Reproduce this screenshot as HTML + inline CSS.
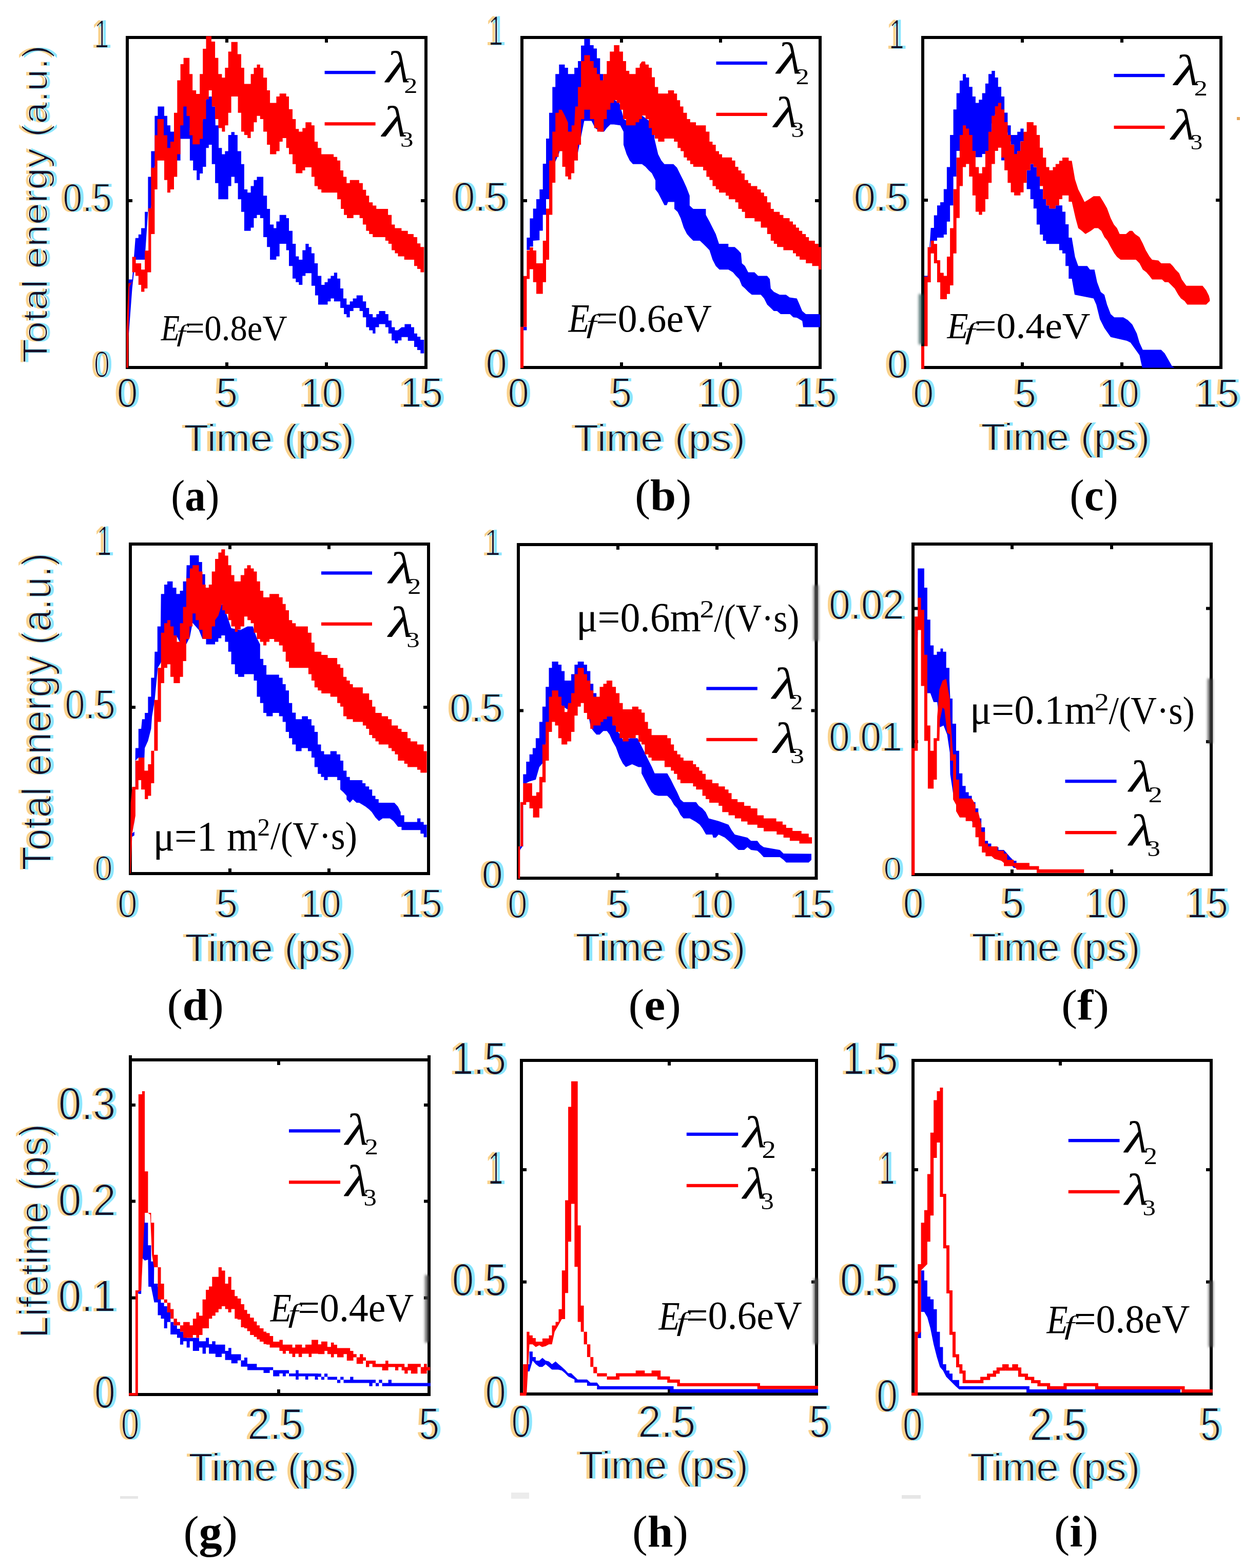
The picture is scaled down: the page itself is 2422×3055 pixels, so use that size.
<!DOCTYPE html>
<html><head><meta charset="utf-8"><title>Figure</title>
<style>html,body{margin:0;padding:0;background:#fff}svg{display:block}</style></head>
<body><svg width="2422" height="3055" viewBox="0 0 2422 3055">
<defs><filter id="bl" x="-50%" y="-10%" width="200%" height="120%"><feGaussianBlur stdDeviation="2.5"/></filter><filter id="er" x="-5%" y="-5%" width="110%" height="110%"><feMorphology operator="erode" radius="0.8"/></filter></defs>
<rect width="2422" height="3055" fill="#fff"/>
<g id="pa">
<rect x="248.0" y="73.0" width="582.0" height="643.0" fill="none" stroke="#000" stroke-width="6"/>
<rect x="439.0" y="76.0" width="6" height="7"/>
<rect x="439.0" y="706.0" width="6" height="7"/>
<rect x="633.0" y="76.0" width="6" height="7"/>
<rect x="633.0" y="706.0" width="6" height="7"/>
<rect x="251.0" y="388.0" width="7" height="6"/>
<rect x="820.0" y="388.0" width="7" height="6"/>
<polygon fill="#0000ff" points="250.5,649.8 250.5,544.5 257.6,544.5 263.9,463.7 269.8,463.7 269.8,456.7 275.1,456.7 275.1,444.4 282.1,444.4 282.1,412.8 288.4,412.8 288.4,344.4 294.4,344.4 294.4,294.5 301.4,294.5 301.4,225.7 307.4,225.7 307.4,207.5 320.0,207.5 320.0,225.7 326.0,225.7 326.0,244.3 332.0,244.3 332.0,256.6 339.0,256.6 345.3,244.3 351.6,244.3 357.6,207.5 363.6,207.5 363.6,226.8 369.9,256.6 394.5,256.6 395.2,232.0 401.5,193.4 407.8,188.1 412.7,188.1 413.8,207.5 419.1,207.5 419.8,244.3 426.1,244.3 426.1,288.2 432.4,288.2 432.4,300.5 438.4,300.5 438.4,294.5 444.7,294.5 444.7,262.9 450.6,262.9 450.6,257.3 457.0,257.3 457.0,262.9 462.9,262.9 462.9,294.5 470.0,294.5 470.0,319.8 475.9,319.8 475.9,369.0 482.2,369.0 482.2,375.3 488.6,375.3 488.6,362.6 494.5,362.6 494.5,350.7 500.5,350.7 500.5,344.4 513.1,344.4 513.1,381.2 520.2,381.2 520.2,406.9 526.1,406.9 526.1,437.4 533.2,437.4 533.2,444.4 538.4,444.4 538.4,431.4 544.7,431.4 544.7,418.8 557.7,418.8 557.7,425.1 563.0,425.1 563.0,449.7 570.0,449.7 570.0,475.0 576.3,475.0 576.3,499.6 582.3,499.6 582.3,505.9 589.3,505.9 589.3,487.6 595.3,487.6 595.3,475.0 601.6,475.0 601.6,481.3 606.9,481.3 606.9,493.6 612.8,493.6 612.8,512.9 619.2,512.9 619.2,537.5 626.2,537.5 626.2,555.0 632.5,555.0 632.5,549.8 638.5,549.8 638.5,542.7 644.4,542.7 644.4,537.5 650.8,537.5 650.8,531.2 657.1,531.2 657.1,542.7 663.1,542.7 663.1,562.0 669.0,562.0 669.0,581.4 675.3,581.4 675.3,593.6 681.7,593.6 681.7,587.3 687.6,587.3 687.6,581.4 694.7,581.4 694.7,575.4 706.9,575.4 706.9,587.3 713.3,587.3 713.3,600.0 719.2,600.0 719.2,611.9 726.2,611.9 726.2,618.2 733.3,618.2 733.3,611.9 738.5,611.9 738.5,605.9 750.8,605.9 750.8,611.9 756.8,611.9 756.8,624.5 763.1,624.5 763.1,637.5 769.4,637.5 769.4,643.5 775.4,643.5 782.4,637.5 788.4,637.5 788.4,631.6 801.0,631.6 801.0,637.5 807.0,637.5 807.0,649.8 813.0,649.8 813.0,656.1 819.3,656.1 819.3,662.1 826.3,662.1 826.3,688.4 819.3,688.4 819.3,682.1 813.0,682.1 813.0,676.1 807.0,676.1 807.0,663.9 794.7,663.9 794.7,656.8 782.4,656.8 782.4,663.2 775.4,663.2 775.4,669.1 769.4,669.1 769.4,663.2 763.1,663.2 763.1,649.8 756.8,649.8 756.8,637.5 750.8,637.5 750.8,631.6 738.5,631.6 738.5,637.5 731.5,637.5 731.5,649.8 726.2,649.8 726.2,643.5 719.2,643.5 719.2,637.5 713.3,637.5 713.3,618.2 706.9,618.2 706.9,605.9 700.6,605.9 700.6,600.0 688.7,600.0 688.7,605.9 681.7,605.9 681.7,618.2 675.3,618.2 675.3,611.9 670.1,611.9 670.1,600.0 663.1,600.0 663.1,587.3 650.8,587.3 650.8,581.4 644.4,581.4 644.4,587.3 638.5,587.3 638.5,593.6 619.9,593.6 619.9,575.4 613.9,575.4 613.9,556.8 606.9,556.8 606.9,532.2 595.3,532.2 595.3,537.5 589.3,537.5 589.3,555.0 582.3,555.0 582.3,549.8 576.3,549.8 576.3,542.7 570.0,542.7 570.0,518.2 563.0,518.2 563.0,487.6 557.7,487.6 557.7,475.0 544.7,475.0 544.7,499.6 538.4,499.6 538.4,505.9 526.1,505.9 526.1,481.3 520.2,481.3 520.2,462.0 513.1,462.0 513.1,425.1 506.8,425.1 506.8,418.8 500.5,418.8 500.5,425.1 494.5,425.1 494.5,443.4 488.6,443.4 488.6,449.7 475.9,449.7 475.9,412.8 470.0,412.8 470.0,388.3 463.6,388.3 463.6,356.7 457.0,356.7 457.0,344.4 450.6,344.4 450.6,362.6 444.7,362.6 444.7,388.3 425.4,388.3 425.4,356.7 419.1,356.7 419.1,319.8 412.7,319.8 412.7,281.9 406.8,281.9 406.8,288.2 401.5,288.2 401.5,325.1 395.2,325.1 395.2,338.1 389.2,338.1 389.2,350.7 383.2,350.7 383.2,332.1 376.2,332.1 376.2,312.8 369.9,312.8 369.9,270.6 363.6,270.6 351.6,270.6 351.6,312.8 345.3,312.8 339.0,305.8 326.0,305.8 320.0,270.6 306.7,305.8 301.4,325.1 294.4,405.8 288.4,412.8 282.1,505.9 263.9,505.9 257.6,562.0 250.5,656.8"/>
<polygon fill="#ff0000" points="246.3,716.5 246.3,642.8 250.5,551.5 257.6,551.5 257.6,500.6 264.6,500.6 264.6,512.9 275.1,512.9 275.1,525.2 282.1,525.2 282.1,488.3 289.2,488.3 289.2,405.8 294.4,405.8 294.4,326.8 301.4,326.8 301.4,263.6 306.7,263.6 306.7,232.0 319.0,232.0 319.0,263.6 326.0,263.6 326.0,288.2 332.0,288.2 332.0,275.9 339.0,275.9 339.0,219.7 345.3,219.7 345.3,156.5 351.6,156.5 351.6,125.0 357.6,125.0 357.6,112.7 369.2,112.7 369.2,144.3 375.2,144.3 375.2,175.9 382.2,175.9 382.2,182.9 389.2,182.9 389.2,144.3 395.2,144.3 395.2,95.1 401.5,95.1 401.5,70.5 412.0,70.5 412.0,81.1 419.1,81.1 419.1,112.7 425.4,112.7 425.4,144.3 432.4,144.3 432.4,151.3 438.4,151.3 438.4,132.0 444.7,132.0 444.7,100.4 450.6,100.4 450.6,81.8 462.9,81.8 462.9,105.6 470.0,105.6 470.0,132.0 475.9,132.0 475.9,163.6 488.6,163.6 488.6,144.3 494.5,144.3 494.5,132.0 500.5,132.0 500.5,125.7 506.8,125.7 506.8,132.0 513.1,132.0 513.1,151.3 520.2,151.3 520.2,175.9 526.1,175.9 526.1,200.4 538.4,200.4 538.4,188.1 544.7,188.1 544.7,182.2 557.7,182.2 557.7,188.1 563.0,188.1 563.0,212.7 570.0,212.7 570.0,232.0 576.3,232.0 576.3,251.3 582.3,251.3 582.3,256.6 589.3,256.6 589.3,249.6 595.3,249.6 595.3,238.3 606.9,238.3 606.9,244.3 612.8,244.3 612.8,275.9 619.2,275.9 619.2,288.2 626.2,288.2 626.2,300.5 650.1,300.5 650.1,305.8 657.1,305.8 657.1,312.8 663.1,312.8 663.1,332.1 669.0,332.1 669.0,344.4 675.3,344.4 675.3,356.7 681.7,356.7 681.7,350.7 699.9,350.7 699.9,356.7 706.9,356.7 706.9,369.7 713.3,369.7 713.3,381.2 719.2,381.2 719.2,394.2 726.2,394.2 726.2,400.6 733.3,400.6 733.3,406.9 756.1,406.9 756.1,418.8 763.1,418.8 763.1,437.4 769.4,437.4 769.4,444.4 782.4,444.4 782.4,449.7 794.7,449.7 794.7,456.0 805.9,456.0 805.9,462.0 813.0,462.0 813.0,474.3 819.3,474.3 819.3,481.3 826.3,481.3 826.3,488.3 826.3,530.5 819.3,530.5 819.3,524.1 813.0,524.1 813.0,518.2 807.0,518.2 807.0,505.9 787.7,505.9 787.7,499.6 775.4,499.6 775.4,493.6 769.4,493.6 769.4,487.6 763.1,487.6 763.1,475.0 756.8,475.0 756.8,469.0 750.8,469.0 750.8,462.0 726.2,462.0 726.2,456.0 719.2,456.0 719.2,449.7 713.3,449.7 713.3,437.4 706.9,437.4 706.9,425.1 700.6,425.1 700.6,418.8 688.7,418.8 688.7,425.1 676.0,425.1 676.0,418.8 670.1,418.8 670.1,406.9 664.1,406.9 664.1,388.3 657.1,388.3 657.1,375.3 626.2,375.3 626.2,369.0 619.2,369.0 619.2,362.6 612.8,362.6 612.8,344.4 606.9,344.4 606.9,326.1 594.6,326.1 594.6,332.1 589.3,332.1 589.3,337.4 576.3,337.4 576.3,319.8 570.0,319.8 570.0,300.5 563.0,300.5 563.0,288.2 557.7,288.2 557.7,268.9 550.7,268.9 550.7,275.9 544.7,275.9 544.7,294.5 538.4,294.5 538.4,300.5 526.1,300.5 526.1,281.9 520.2,281.9 520.2,256.6 513.1,256.6 513.1,232.0 506.8,232.0 506.8,225.7 500.5,225.7 500.5,238.3 494.5,238.3 494.5,256.6 488.6,256.6 488.6,268.9 482.2,268.9 482.2,262.9 475.9,262.9 475.9,256.6 470.0,256.6 470.0,219.7 463.6,219.7 463.6,188.1 450.6,188.1 450.6,219.7 444.7,219.7 444.7,244.3 438.4,244.3 438.4,256.6 432.4,256.6 432.4,249.6 425.4,249.6 425.4,232.0 419.1,232.0 419.1,207.5 412.7,207.5 412.7,175.9 406.8,175.9 406.8,193.4 401.5,193.4 401.5,232.0 395.2,232.0 395.2,270.6 389.2,270.6 389.2,281.2 375.2,281.2 375.2,263.6 369.2,263.6 369.2,249.6 357.6,249.6 357.6,268.9 351.6,268.9 351.6,300.5 345.3,300.5 345.3,344.4 339.0,344.4 339.0,369.0 332.0,369.0 332.0,375.3 326.0,375.3 326.0,350.7 320.0,350.7 320.0,312.8 306.7,312.8 306.7,369.0 301.4,369.0 301.4,456.0 294.4,456.0 294.4,530.5 287.4,530.5 287.4,562.0 281.4,562.0 281.4,568.4 275.1,568.4 275.1,555.0 269.8,555.0 269.8,537.5 263.9,537.5 263.9,530.5 257.6,530.5 257.6,548.0 252.3,558.5 250.5,642.8 249.8,716.5"/>
<g style="mix-blend-mode:multiply"><g fill="#fad28c" transform="translate(-5,0)"><text x="182.9" y="93.0" style='font-family:"Liberation Sans",sans-serif;font-size:78.49px' textLength="29.7" lengthAdjust="spacingAndGlyphs">1</text></g><g fill="#8ce6ff" transform="translate(5,0)"><text x="182.9" y="93.0" style='font-family:"Liberation Sans",sans-serif;font-size:78.49px' textLength="29.7" lengthAdjust="spacingAndGlyphs">1</text></g></g><g fill="#180c28" filter="url(#er)"><text x="182.9" y="93.0" style='font-family:"Liberation Sans",sans-serif;font-size:78.49px' textLength="29.7" lengthAdjust="spacingAndGlyphs">1</text></g>
<g style="mix-blend-mode:multiply"><g fill="#fad28c" transform="translate(-5,0)"><text x="122.3" y="411.7" style='font-family:"Liberation Sans",sans-serif;font-size:78.39px' textLength="95.6" lengthAdjust="spacingAndGlyphs">0.5</text></g><g fill="#8ce6ff" transform="translate(5,0)"><text x="122.3" y="411.7" style='font-family:"Liberation Sans",sans-serif;font-size:78.39px' textLength="95.6" lengthAdjust="spacingAndGlyphs">0.5</text></g></g><g fill="#180c28" filter="url(#er)"><text x="122.3" y="411.7" style='font-family:"Liberation Sans",sans-serif;font-size:78.39px' textLength="95.6" lengthAdjust="spacingAndGlyphs">0.5</text></g>
<g style="mix-blend-mode:multiply"><g fill="#fad28c" transform="translate(-5,0)"><text x="182.8" y="735.3" style='font-family:"Liberation Sans",sans-serif;font-size:72.03px' textLength="31.4" lengthAdjust="spacingAndGlyphs">0</text></g><g fill="#8ce6ff" transform="translate(5,0)"><text x="182.8" y="735.3" style='font-family:"Liberation Sans",sans-serif;font-size:72.03px' textLength="31.4" lengthAdjust="spacingAndGlyphs">0</text></g></g><g fill="#180c28" filter="url(#er)"><text x="182.8" y="735.3" style='font-family:"Liberation Sans",sans-serif;font-size:72.03px' textLength="31.4" lengthAdjust="spacingAndGlyphs">0</text></g>
<g style="mix-blend-mode:multiply"><g fill="#fad28c" transform="translate(-5,0)"><text x="227.7" y="792.9" style='font-family:"Liberation Sans",sans-serif;font-size:80.08px' textLength="40.7" lengthAdjust="spacingAndGlyphs">0</text></g><g fill="#8ce6ff" transform="translate(5,0)"><text x="227.7" y="792.9" style='font-family:"Liberation Sans",sans-serif;font-size:80.08px' textLength="40.7" lengthAdjust="spacingAndGlyphs">0</text></g></g><g fill="#180c28" filter="url(#er)"><text x="227.7" y="792.9" style='font-family:"Liberation Sans",sans-serif;font-size:80.08px' textLength="40.7" lengthAdjust="spacingAndGlyphs">0</text></g>
<g style="mix-blend-mode:multiply"><g fill="#fad28c" transform="translate(-5,0)"><text x="421.0" y="792.9" style='font-family:"Liberation Sans",sans-serif;font-size:81.26px' textLength="42.2" lengthAdjust="spacingAndGlyphs">5</text></g><g fill="#8ce6ff" transform="translate(5,0)"><text x="421.0" y="792.9" style='font-family:"Liberation Sans",sans-serif;font-size:81.26px' textLength="42.2" lengthAdjust="spacingAndGlyphs">5</text></g></g><g fill="#180c28" filter="url(#er)"><text x="421.0" y="792.9" style='font-family:"Liberation Sans",sans-serif;font-size:81.26px' textLength="42.2" lengthAdjust="spacingAndGlyphs">5</text></g>
<g style="mix-blend-mode:multiply"><g fill="#fad28c" transform="translate(-5,0)"><text x="586.3" y="792.9" style='font-family:"Liberation Sans",sans-serif;font-size:80.08px' textLength="82.6" lengthAdjust="spacingAndGlyphs">10</text></g><g fill="#8ce6ff" transform="translate(5,0)"><text x="586.3" y="792.9" style='font-family:"Liberation Sans",sans-serif;font-size:80.08px' textLength="82.6" lengthAdjust="spacingAndGlyphs">10</text></g></g><g fill="#180c28" filter="url(#er)"><text x="586.3" y="792.9" style='font-family:"Liberation Sans",sans-serif;font-size:80.08px' textLength="82.6" lengthAdjust="spacingAndGlyphs">10</text></g>
<g style="mix-blend-mode:multiply"><g fill="#fad28c" transform="translate(-5,0)"><text x="780.3" y="792.9" style='font-family:"Liberation Sans",sans-serif;font-size:81.26px' textLength="82.8" lengthAdjust="spacingAndGlyphs">15</text></g><g fill="#8ce6ff" transform="translate(5,0)"><text x="780.3" y="792.9" style='font-family:"Liberation Sans",sans-serif;font-size:81.26px' textLength="82.8" lengthAdjust="spacingAndGlyphs">15</text></g></g><g fill="#180c28" filter="url(#er)"><text x="780.3" y="792.9" style='font-family:"Liberation Sans",sans-serif;font-size:81.26px' textLength="82.8" lengthAdjust="spacingAndGlyphs">15</text></g>
<g style="mix-blend-mode:multiply"><g fill="#fad28c" transform="translate(-5,0)"><text x="357.9" y="878.5" style='font-family:"Liberation Sans",sans-serif;font-size:74.56px' textLength="332.5" lengthAdjust="spacingAndGlyphs">Time (ps)</text></g><g fill="#8ce6ff" transform="translate(5,0)"><text x="357.9" y="878.5" style='font-family:"Liberation Sans",sans-serif;font-size:74.56px' textLength="332.5" lengthAdjust="spacingAndGlyphs">Time (ps)</text></g></g><g fill="#180c28" filter="url(#er)"><text x="357.9" y="878.5" style='font-family:"Liberation Sans",sans-serif;font-size:74.56px' textLength="332.5" lengthAdjust="spacingAndGlyphs">Time (ps)</text></g>
<g style="mix-blend-mode:multiply"><g fill="#fad28c" transform="translate(-5,0)"><g transform="rotate(-90)"><text x="-707.2" y="92.4" style='font-family:"Liberation Sans",sans-serif;font-size:68.77px' textLength="619.2" lengthAdjust="spacingAndGlyphs">Total energy (a.u.)</text></g></g><g fill="#8ce6ff" transform="translate(5,0)"><g transform="rotate(-90)"><text x="-707.2" y="92.4" style='font-family:"Liberation Sans",sans-serif;font-size:68.77px' textLength="619.2" lengthAdjust="spacingAndGlyphs">Total energy (a.u.)</text></g></g></g><g fill="#180c28" filter="url(#er)"><g transform="rotate(-90)"><text x="-707.2" y="92.4" style='font-family:"Liberation Sans",sans-serif;font-size:68.77px' textLength="619.2" lengthAdjust="spacingAndGlyphs">Total energy (a.u.)</text></g></g>
<rect x="632.6" y="138.0" width="99.0" height="6.3" fill="#0000ff"/>
<rect x="632.6" y="238.2" width="99.0" height="6.3" fill="#ff0000"/>
<text x="751.7" y="160.0" style='font-family:"Liberation Serif",serif;font-style:italic;font-size:87.20px' textLength="47.6" lengthAdjust="spacingAndGlyphs" fill="#000">λ</text>
<text x="787.2" y="181.0" style='font-family:"Liberation Serif",serif;font-size:42.29px' textLength="26.3" lengthAdjust="spacingAndGlyphs" fill="#000">2</text>
<text x="744.8" y="265.4" style='font-family:"Liberation Serif",serif;font-style:italic;font-size:84.79px' textLength="49.1" lengthAdjust="spacingAndGlyphs" fill="#000">λ</text>
<text x="780.1" y="286.1" style='font-family:"Liberation Serif",serif;font-size:42.42px' textLength="25.5" lengthAdjust="spacingAndGlyphs" fill="#000">3</text>
<text x="313.7" y="663.0" style='font-family:"Liberation Serif",serif;font-style:italic;font-size:71.17px' textLength="36.3" lengthAdjust="spacingAndGlyphs" fill="#000">E</text>
<text x="344.3" y="664.8" style='font-family:"Liberation Serif",serif;font-style:italic;font-size:45.47px' textLength="17.3" lengthAdjust="spacingAndGlyphs" fill="#000">f</text>
<text x="360.7" y="662.9" style='font-family:"Liberation Serif",serif;font-size:69.98px' textLength="198.9" lengthAdjust="spacingAndGlyphs" fill="#000">=0.8eV</text>
<text x="333.3" y="994.6" style='font-family:"Liberation Serif",serif;font-size:86.35px' textLength="94.2" lengthAdjust="spacingAndGlyphs" fill="#000">(<tspan style='font-family:"Liberation Serif",serif;font-weight:bold'>a</tspan>)</text>
</g>
<g id="pb">
<rect x="1017.0" y="73.0" width="581.0" height="643.0" fill="none" stroke="#000" stroke-width="6"/>
<rect x="1208.0" y="76.0" width="6" height="7"/>
<rect x="1208.0" y="706.0" width="6" height="7"/>
<rect x="1401.0" y="76.0" width="6" height="7"/>
<rect x="1401.0" y="706.0" width="6" height="7"/>
<rect x="1020.0" y="388.0" width="7" height="6"/>
<rect x="1588.0" y="388.0" width="7" height="6"/>
<polygon fill="#0000ff" points="1020.1,636.8 1026.4,636.8 1026.4,463.0 1032.4,463.0 1032.4,425.5 1038.7,425.5 1038.7,406.5 1045.0,406.5 1045.0,387.9 1051.3,387.9 1051.3,369.0 1057.7,369.0 1057.7,319.1 1064.0,319.1 1064.0,269.9 1070.0,269.9 1070.0,219.7 1076.3,219.7 1076.3,169.5 1082.2,169.5 1082.2,144.3 1089.3,144.3 1089.3,125.7 1100.5,125.7 1100.5,132.0 1106.8,132.0 1106.8,144.3 1119.1,144.3 1119.1,132.0 1126.1,132.0 1126.1,119.0 1132.1,119.0 1132.1,88.8 1138.4,88.8 1138.4,75.8 1149.6,75.8 1149.6,88.1 1156.7,88.1 1156.7,94.4 1163.0,94.4 1163.0,113.4 1169.3,113.4 1169.3,144.3 1175.3,144.3 1175.3,156.5 1180.5,165.3 1198.1,195.2 1206.9,200.4 1215.6,232.0 1233.2,242.6 1250.8,225.0 1264.8,235.5 1275.3,256.6 1275.3,270.6 1282.4,300.5 1288.7,312.8 1294.6,319.8 1312.2,319.8 1319.2,326.8 1325.2,339.1 1331.5,351.4 1337.8,365.4 1343.8,381.2 1343.8,400.6 1350.8,406.9 1375.4,406.9 1375.4,418.8 1382.4,431.4 1388.4,443.4 1394.7,456.0 1401.0,475.0 1419.3,475.0 1419.3,481.3 1431.6,481.3 1438.6,487.6 1443.9,493.6 1445.6,512.9 1451.6,518.2 1457.9,530.5 1470.2,530.5 1477.2,537.5 1494.8,537.5 1500.0,543.8 1501.8,562.0 1507.8,568.4 1519.3,574.3 1531.6,574.3 1538.6,579.6 1552.7,581.4 1558.0,593.6 1563.2,605.9 1570.2,611.9 1594.8,611.9 1598.3,613.0 1598.3,637.5 1565.0,637.5 1563.2,625.2 1552.7,618.9 1545.7,618.2 1539.3,611.9 1521.1,611.9 1514.1,605.9 1507.8,605.9 1501.8,600.0 1494.8,593.6 1488.8,581.4 1482.5,574.3 1464.9,574.3 1457.9,568.4 1451.6,562.0 1445.6,556.8 1440.3,543.8 1434.0,537.5 1428.1,530.5 1419.3,525.2 1401.7,525.2 1394.7,518.2 1388.4,505.9 1382.4,487.6 1376.4,481.3 1370.1,475.0 1363.8,469.0 1350.8,469.0 1343.8,462.0 1338.5,456.0 1332.2,443.4 1326.2,425.1 1320.3,412.8 1314.0,406.9 1314.0,393.5 1301.7,393.5 1299.2,399.8 1294.6,399.8 1288.7,388.3 1282.4,376.0 1277.1,369.0 1277.1,351.4 1270.1,337.4 1264.1,332.1 1257.8,325.1 1250.8,319.8 1233.2,319.8 1226.9,312.8 1220.9,300.5 1214.9,281.9 1214.9,256.6 1208.6,244.3 1196.3,242.6 1189.3,242.6 1182.3,249.6 1177.0,256.6 1170.0,256.6 1159.5,249.6 1152.5,235.5 1138.4,235.5 1131.4,270.6 1124.4,305.8 1113.8,277.7 1106.8,256.6 1096.3,270.6 1089.3,298.7 1077.0,326.8 1070.0,387.9 1064.0,387.9 1064.0,418.5 1057.7,418.5 1057.7,449.4 1051.3,449.4 1051.3,468.0 1038.7,469.0 1038.7,480.6 1032.4,480.6 1032.4,486.9 1026.4,486.9 1026.4,643.5 1020.1,643.5"/>
<polygon fill="#ff0000" points="1014.1,716.9 1014.1,636.8 1020.1,636.8 1020.1,537.8 1026.4,537.8 1026.4,488.0 1032.0,488.0 1032.0,482.0 1038.7,482.0 1038.7,488.0 1045.0,488.0 1045.0,512.9 1057.7,512.9 1057.7,469.0 1064.0,469.0 1064.0,406.5 1070.0,406.5 1070.0,312.8 1076.3,312.8 1076.3,256.6 1082.2,256.6 1082.2,219.7 1088.6,219.7 1088.6,213.8 1094.5,213.8 1100.5,225.0 1106.8,239.1 1106.8,256.6 1113.8,256.6 1113.8,244.3 1119.1,244.3 1120.9,207.5 1126.1,207.5 1126.1,169.5 1132.1,169.5 1132.1,119.0 1138.4,119.0 1138.4,107.4 1149.6,107.4 1149.6,119.0 1156.7,119.0 1156.7,132.0 1163.0,132.0 1163.0,144.3 1168.3,144.3 1169.3,156.5 1175.3,156.5 1175.3,144.3 1182.3,144.3 1182.3,119.0 1188.3,119.0 1188.3,100.4 1196.3,100.4 1196.3,88.1 1206.9,88.1 1206.9,100.4 1213.9,100.4 1213.9,119.0 1219.9,119.0 1219.9,137.9 1226.2,137.9 1226.2,144.3 1238.5,144.3 1238.5,132.0 1246.5,132.0 1246.5,125.7 1250.8,119.7 1257.1,119.7 1257.8,125.7 1264.1,125.7 1264.1,132.0 1270.1,132.0 1270.1,150.6 1276.0,150.6 1276.0,169.5 1282.4,169.5 1282.4,182.2 1301.7,182.2 1301.7,175.9 1313.3,175.9 1313.3,182.2 1319.2,182.2 1319.2,195.2 1325.2,195.2 1325.2,207.5 1331.5,207.5 1331.5,219.7 1338.5,219.7 1338.5,232.0 1344.8,232.0 1344.8,238.3 1356.1,238.3 1356.1,244.3 1375.4,244.3 1375.4,256.6 1382.4,256.6 1382.4,275.9 1388.4,275.9 1388.4,281.9 1394.7,281.9 1394.7,294.5 1401.0,294.5 1401.0,300.5 1407.0,300.5 1407.0,306.8 1426.3,306.8 1426.3,312.8 1432.6,312.8 1432.6,325.1 1438.6,325.1 1438.6,332.1 1444.6,332.1 1444.6,338.1 1450.9,338.1 1450.9,350.7 1457.9,350.7 1457.9,356.7 1463.2,356.7 1463.2,362.6 1475.5,362.6 1475.5,369.0 1482.5,369.0 1482.5,375.3 1488.8,375.3 1488.8,382.3 1494.8,382.3 1494.8,394.2 1501.8,394.2 1501.8,406.9 1507.8,406.9 1507.8,412.8 1519.3,412.8 1519.3,418.8 1526.4,418.8 1526.4,425.1 1538.6,425.1 1538.6,431.4 1545.0,431.4 1545.0,437.4 1550.9,437.4 1550.9,443.4 1556.9,443.4 1556.9,449.7 1563.2,449.7 1563.2,456.0 1570.2,456.0 1570.2,462.0 1576.2,462.0 1576.2,469.0 1587.8,469.0 1587.8,475.0 1594.8,475.0 1594.8,481.3 1600.1,481.3 1600.1,525.2 1594.8,525.2 1594.8,518.2 1582.5,518.2 1582.5,512.9 1570.2,512.9 1570.2,505.9 1558.0,505.9 1558.0,499.6 1550.9,499.6 1550.9,493.6 1545.0,493.6 1545.0,487.6 1526.4,487.6 1526.4,481.3 1514.1,481.3 1514.1,475.0 1507.8,475.0 1507.8,469.0 1501.8,469.0 1501.8,456.0 1494.8,456.0 1494.8,443.4 1482.5,443.4 1482.5,431.4 1470.2,431.4 1470.2,425.1 1451.6,425.1 1451.6,412.8 1445.6,412.8 1445.6,406.9 1438.6,406.9 1438.6,394.2 1432.6,394.2 1432.6,388.3 1420.0,388.3 1420.0,381.2 1414.0,381.2 1414.0,375.3 1401.0,375.3 1401.0,369.0 1394.7,369.0 1394.7,362.6 1388.4,362.6 1388.4,350.7 1382.4,350.7 1382.4,344.4 1376.4,344.4 1376.4,332.1 1370.1,332.1 1370.1,325.1 1350.8,325.1 1350.8,319.8 1344.8,319.8 1344.8,312.8 1338.5,312.8 1338.5,306.8 1332.2,306.8 1332.2,294.5 1326.2,294.5 1326.2,288.2 1320.3,288.2 1320.3,275.9 1313.3,275.9 1313.3,269.9 1294.6,269.9 1294.6,275.9 1282.4,275.9 1282.4,269.9 1276.0,269.9 1276.0,262.9 1270.1,262.9 1270.1,249.6 1264.1,249.6 1264.1,232.0 1257.8,232.0 1257.8,225.0 1250.8,225.0 1250.8,232.0 1245.5,232.0 1245.5,238.3 1238.5,238.3 1238.5,244.3 1219.9,244.3 1219.9,232.0 1213.9,232.0 1213.9,213.8 1207.9,213.8 1207.9,200.4 1201.6,200.4 1201.6,195.2 1196.3,195.2 1196.3,200.4 1189.3,200.4 1189.3,213.8 1182.3,213.8 1182.3,232.0 1176.3,232.0 1176.3,256.6 1163.7,256.6 1163.7,249.6 1157.7,249.6 1157.7,232.0 1149.6,232.0 1149.6,213.8 1138.4,213.8 1138.4,232.0 1132.1,232.0 1132.1,281.9 1126.1,281.9 1126.1,312.8 1119.1,312.8 1119.1,337.4 1113.1,337.4 1113.1,349.6 1106.8,349.6 1106.8,343.7 1101.5,343.7 1101.5,325.1 1095.6,325.1 1095.6,294.5 1088.6,294.5 1088.6,305.8 1082.2,305.8 1082.2,356.0 1076.3,356.0 1076.3,418.5 1070.0,418.5 1070.0,505.9 1064.0,505.9 1064.0,549.8 1057.7,549.8 1057.7,572.6 1045.0,572.6 1045.0,549.8 1038.7,549.8 1038.7,524.5 1032.0,524.5 1032.0,543.4 1026.4,543.4 1026.4,636.8 1020.1,636.8 1020.1,716.9"/>
<g style="mix-blend-mode:multiply"><g fill="#fad28c" transform="translate(-5,0)"><text x="950.9" y="88.0" style='font-family:"Liberation Sans",sans-serif;font-size:81.40px' textLength="29.7" lengthAdjust="spacingAndGlyphs">1</text></g><g fill="#8ce6ff" transform="translate(5,0)"><text x="950.9" y="88.0" style='font-family:"Liberation Sans",sans-serif;font-size:81.40px' textLength="29.7" lengthAdjust="spacingAndGlyphs">1</text></g></g><g fill="#180c28" filter="url(#er)"><text x="950.9" y="88.0" style='font-family:"Liberation Sans",sans-serif;font-size:81.40px' textLength="29.7" lengthAdjust="spacingAndGlyphs">1</text></g>
<g style="mix-blend-mode:multiply"><g fill="#fad28c" transform="translate(-5,0)"><text x="883.7" y="411.2" style='font-family:"Liberation Sans",sans-serif;font-size:79.10px' textLength="104.5" lengthAdjust="spacingAndGlyphs">0.5</text></g><g fill="#8ce6ff" transform="translate(5,0)"><text x="883.7" y="411.2" style='font-family:"Liberation Sans",sans-serif;font-size:79.10px' textLength="104.5" lengthAdjust="spacingAndGlyphs">0.5</text></g></g><g fill="#180c28" filter="url(#er)"><text x="883.7" y="411.2" style='font-family:"Liberation Sans",sans-serif;font-size:79.10px' textLength="104.5" lengthAdjust="spacingAndGlyphs">0.5</text></g>
<g style="mix-blend-mode:multiply"><g fill="#fad28c" transform="translate(-5,0)"><text x="946.5" y="736.2" style='font-family:"Liberation Sans",sans-serif;font-size:79.52px' textLength="41.4" lengthAdjust="spacingAndGlyphs">0</text></g><g fill="#8ce6ff" transform="translate(5,0)"><text x="946.5" y="736.2" style='font-family:"Liberation Sans",sans-serif;font-size:79.52px' textLength="41.4" lengthAdjust="spacingAndGlyphs">0</text></g></g><g fill="#180c28" filter="url(#er)"><text x="946.5" y="736.2" style='font-family:"Liberation Sans",sans-serif;font-size:79.52px' textLength="41.4" lengthAdjust="spacingAndGlyphs">0</text></g>
<g style="mix-blend-mode:multiply"><g fill="#fad28c" transform="translate(-5,0)"><text x="989.5" y="793.2" style='font-family:"Liberation Sans",sans-serif;font-size:80.51px' textLength="41.4" lengthAdjust="spacingAndGlyphs">0</text></g><g fill="#8ce6ff" transform="translate(5,0)"><text x="989.5" y="793.2" style='font-family:"Liberation Sans",sans-serif;font-size:80.51px' textLength="41.4" lengthAdjust="spacingAndGlyphs">0</text></g></g><g fill="#180c28" filter="url(#er)"><text x="989.5" y="793.2" style='font-family:"Liberation Sans",sans-serif;font-size:80.51px' textLength="41.4" lengthAdjust="spacingAndGlyphs">0</text></g>
<g style="mix-blend-mode:multiply"><g fill="#fad28c" transform="translate(-5,0)"><text x="1190.0" y="793.2" style='font-family:"Liberation Sans",sans-serif;font-size:81.69px' textLength="41.1" lengthAdjust="spacingAndGlyphs">5</text></g><g fill="#8ce6ff" transform="translate(5,0)"><text x="1190.0" y="793.2" style='font-family:"Liberation Sans",sans-serif;font-size:81.69px' textLength="41.1" lengthAdjust="spacingAndGlyphs">5</text></g></g><g fill="#180c28" filter="url(#er)"><text x="1190.0" y="793.2" style='font-family:"Liberation Sans",sans-serif;font-size:81.69px' textLength="41.1" lengthAdjust="spacingAndGlyphs">5</text></g>
<g style="mix-blend-mode:multiply"><g fill="#fad28c" transform="translate(-5,0)"><text x="1361.3" y="793.2" style='font-family:"Liberation Sans",sans-serif;font-size:80.51px' textLength="82.6" lengthAdjust="spacingAndGlyphs">10</text></g><g fill="#8ce6ff" transform="translate(5,0)"><text x="1361.3" y="793.2" style='font-family:"Liberation Sans",sans-serif;font-size:80.51px' textLength="82.6" lengthAdjust="spacingAndGlyphs">10</text></g></g><g fill="#180c28" filter="url(#er)"><text x="1361.3" y="793.2" style='font-family:"Liberation Sans",sans-serif;font-size:80.51px' textLength="82.6" lengthAdjust="spacingAndGlyphs">10</text></g>
<g style="mix-blend-mode:multiply"><g fill="#fad28c" transform="translate(-5,0)"><text x="1549.4" y="793.2" style='font-family:"Liberation Sans",sans-serif;font-size:81.69px' textLength="81.2" lengthAdjust="spacingAndGlyphs">15</text></g><g fill="#8ce6ff" transform="translate(5,0)"><text x="1549.4" y="793.2" style='font-family:"Liberation Sans",sans-serif;font-size:81.69px' textLength="81.2" lengthAdjust="spacingAndGlyphs">15</text></g></g><g fill="#180c28" filter="url(#er)"><text x="1549.4" y="793.2" style='font-family:"Liberation Sans",sans-serif;font-size:81.69px' textLength="81.2" lengthAdjust="spacingAndGlyphs">15</text></g>
<g style="mix-blend-mode:multiply"><g fill="#fad28c" transform="translate(-5,0)"><text x="1117.6" y="878.5" style='font-family:"Liberation Sans",sans-serif;font-size:74.56px' textLength="334.7" lengthAdjust="spacingAndGlyphs">Time (ps)</text></g><g fill="#8ce6ff" transform="translate(5,0)"><text x="1117.6" y="878.5" style='font-family:"Liberation Sans",sans-serif;font-size:74.56px' textLength="334.7" lengthAdjust="spacingAndGlyphs">Time (ps)</text></g></g><g fill="#180c28" filter="url(#er)"><text x="1117.6" y="878.5" style='font-family:"Liberation Sans",sans-serif;font-size:74.56px' textLength="334.7" lengthAdjust="spacingAndGlyphs">Time (ps)</text></g>
<rect x="1395.5" y="119.8" width="99.3" height="6.3" fill="#0000ff"/>
<rect x="1395.5" y="219.7" width="99.3" height="6.3" fill="#ff0000"/>
<text x="1513.4" y="142.5" style='font-family:"Liberation Serif",serif;font-style:italic;font-size:87.35px' textLength="49.3" lengthAdjust="spacingAndGlyphs" fill="#000">λ</text>
<text x="1550.4" y="163.6" style='font-family:"Liberation Serif",serif;font-size:45.16px' textLength="26.3" lengthAdjust="spacingAndGlyphs" fill="#000">2</text>
<text x="1507.7" y="246.8" style='font-family:"Liberation Serif",serif;font-style:italic;font-size:84.93px' textLength="47.8" lengthAdjust="spacingAndGlyphs" fill="#000">λ</text>
<text x="1541.6" y="266.6" style='font-family:"Liberation Serif",serif;font-size:41.67px' textLength="25.4" lengthAdjust="spacingAndGlyphs" fill="#000">3</text>
<text x="1107.6" y="646.4" style='font-family:"Liberation Serif",serif;font-style:italic;font-size:77.74px' textLength="41.2" lengthAdjust="spacingAndGlyphs" fill="#000">E</text>
<text x="1142.4" y="648.4" style='font-family:"Liberation Serif",serif;font-style:italic;font-size:49.67px' textLength="19.7" lengthAdjust="spacingAndGlyphs" fill="#000">f</text>
<text x="1161.0" y="646.3" style='font-family:"Liberation Serif",serif;font-size:76.44px' textLength="225.9" lengthAdjust="spacingAndGlyphs" fill="#000">=0.6eV</text>
<text x="1237.0" y="993.7" style='font-family:"Liberation Serif",serif;font-size:86.02px' textLength="110.4" lengthAdjust="spacingAndGlyphs" fill="#000">(<tspan style='font-family:"Liberation Serif",serif;font-weight:bold'>b</tspan>)</text>
</g>
<g id="pc">
<rect x="1798.0" y="73.0" width="581.0" height="643.0" fill="none" stroke="#000" stroke-width="6"/>
<rect x="1989.0" y="76.0" width="6" height="7"/>
<rect x="1989.0" y="706.0" width="6" height="7"/>
<rect x="2183.0" y="76.0" width="6" height="7"/>
<rect x="2183.0" y="706.0" width="6" height="7"/>
<rect x="1801.0" y="387.0" width="7" height="6"/>
<rect x="2369.0" y="387.0" width="7" height="6"/>
<polygon fill="#0000ff" points="1801.0,537.6 1807.5,537.6 1813.7,444.0 1819.8,444.0 1819.8,419.5 1826.0,419.5 1826.0,400.2 1832.1,400.2 1832.1,394.0 1838.8,394.0 1838.8,368.6 1844.9,368.6 1844.9,325.6 1851.1,325.6 1851.1,262.9 1857.6,262.9 1857.6,213.2 1863.7,213.2 1863.7,181.6 1869.9,181.6 1869.9,157.0 1876.0,157.0 1876.0,144.2 1882.2,144.2 1882.2,150.9 1888.3,150.9 1888.3,169.3 1894.8,169.3 1894.8,188.1 1900.9,188.1 1900.9,200.6 1907.3,200.6 1907.3,194.3 1913.7,194.3 1913.7,181.6 1919.9,181.6 1919.9,162.8 1926.0,162.8 1926.0,144.2 1932.2,144.2 1932.2,138.1 1938.7,138.1 1938.7,150.9 1944.8,150.9 1944.8,169.3 1951.0,169.3 1951.0,188.1 1957.1,188.1 1957.1,219.4 1963.4,219.4 1963.4,244.3 1969.6,244.3 1969.6,262.9 1976.1,262.9 1976.1,262.9 1982.2,262.9 1982.2,256.7 1988.4,256.7 1988.4,250.4 1994.5,250.4 1994.5,258.0 2000.6,258.0 2000.6,331.7 2007.7,331.7 2007.7,319.4 2013.8,319.4 2013.8,325.6 2019.9,325.6 2019.9,344.0 2026.1,344.0 2026.1,368.6 2032.2,368.6 2032.2,387.9 2038.4,387.9 2038.4,400.2 2044.5,400.2 2044.5,406.3 2056.8,406.3 2056.8,400.2 2063.8,400.2 2063.8,400.2 2070.0,400.2 2070.0,412.4 2076.1,412.4 2076.1,437.0 2082.3,437.0 2082.3,463.0 2088.4,463.0 2094.7,500.6 2101.0,518.2 2118.5,518.2 2123.8,525.2 2132.6,525.2 2137.8,549.8 2144.9,569.1 2151.9,574.3 2157.1,593.6 2164.2,611.9 2171.2,618.2 2188.7,618.2 2197.5,623.5 2206.3,632.3 2215.1,649.8 2220.3,667.4 2226.7,681.4 2262.5,681.4 2269.5,688.4 2276.5,700.7 2283.5,713.0 2288.8,716.5 2225.6,716.5 2220.3,691.9 2202.8,667.4 2195.8,663.9 2164.2,656.8 2151.9,639.3 2143.1,621.7 2136.1,593.6 2130.8,581.4 2094.0,574.3 2088.4,542.9 2082.3,542.9 2082.3,518.3 2076.1,518.3 2076.1,493.7 2070.0,493.7 2070.0,487.6 2063.8,487.6 2063.8,475.3 2056.8,475.3 2056.8,475.3 2044.5,475.3 2044.5,475.3 2038.4,475.3 2038.4,469.1 2032.2,469.1 2032.2,456.9 2026.1,456.9 2026.1,437.6 2019.9,437.6 2019.9,406.3 2013.8,406.3 2013.8,387.9 2007.7,387.9 2007.7,368.6 2000.6,368.6 2000.6,282.6 1994.5,282.6 1994.5,275.5 1988.4,275.5 1988.4,294.0 1982.2,294.0 1982.2,300.1 1976.1,300.1 1976.1,281.7 1969.6,281.7 1969.6,275.5 1963.4,275.5 1963.4,258.0 1957.1,258.0 1957.1,312.4 1951.0,312.4 1951.0,222.9 1944.8,222.9 1944.8,222.9 1938.7,222.9 1938.7,240.4 1932.2,240.4 1932.2,275.5 1926.0,275.5 1926.0,294.0 1919.9,294.0 1919.9,300.1 1913.7,300.1 1913.7,306.2 1907.3,306.2 1907.3,306.2 1900.9,306.2 1900.9,294.0 1894.8,294.0 1894.8,294.0 1888.3,294.0 1888.3,293.1 1882.2,293.1 1882.2,293.1 1876.0,293.1 1876.0,307.1 1869.9,307.1 1869.9,294.0 1863.7,294.0 1863.7,344.0 1857.6,344.0 1857.6,400.2 1851.1,400.2 1851.1,431.8 1844.9,431.8 1844.9,456.9 1838.8,456.9 1838.8,463.0 1832.1,463.0 1832.1,463.0 1826.0,463.0 1826.0,469.1 1819.8,469.1 1819.8,469.1 1813.7,469.1 1807.5,543.8 1801.0,543.8"/>
<polygon fill="#ff0000" points="1795.0,674.5 1801.0,674.5 1801.0,539.0 1807.5,539.0 1807.5,481.4 1813.7,481.4 1813.7,469.0 1819.8,469.0 1819.8,475.3 1826.0,475.3 1826.0,507.0 1832.1,507.0 1832.1,531.5 1838.8,531.5 1838.8,537.6 1845.0,537.6 1845.0,500.0 1851.1,500.0 1851.1,444.6 1857.6,444.6 1857.6,368.6 1863.7,368.6 1863.7,307.1 1869.9,307.1 1869.9,262.9 1876.0,262.9 1876.0,244.3 1882.2,244.3 1882.2,250.4 1888.3,250.4 1888.3,262.9 1894.8,262.9 1894.8,294.0 1900.9,294.0 1900.9,325.6 1907.3,325.6 1907.3,337.8 1913.7,337.8 1913.7,325.6 1919.9,325.6 1919.9,294.0 1926.0,294.0 1926.0,256.7 1932.2,256.7 1932.2,225.5 1938.7,225.5 1938.7,207.1 1944.8,207.1 1944.8,200.6 1951.0,200.6 1951.0,213.2 1957.1,213.2 1957.1,238.1 1963.4,238.1 1963.4,262.9 1969.6,262.9 1969.6,281.7 1976.1,281.7 1976.1,300.1 1982.2,300.1 1982.2,294.0 1988.4,294.0 1988.4,275.5 1994.5,275.5 1994.5,256.7 2000.6,256.7 2000.6,238.1 2007.7,238.1 2007.7,238.1 2013.8,238.1 2013.8,244.3 2019.9,244.3 2019.9,262.9 2026.1,262.9 2026.1,287.8 2032.2,287.8 2032.2,307.1 2038.4,307.1 2038.4,325.6 2044.5,325.6 2044.5,331.7 2051.5,331.7 2051.5,325.6 2056.8,325.6 2056.8,319.4 2063.8,319.4 2063.8,313.3 2070.0,313.3 2070.0,307.1 2082.3,307.1 2082.3,313.3 2088.4,313.3 2094.7,349.6 2101.0,369.0 2107.3,381.2 2113.3,393.5 2122.0,388.3 2130.8,382.3 2143.1,382.3 2150.1,393.5 2157.1,405.8 2164.2,425.1 2170.5,437.4 2176.5,444.4 2181.7,456.0 2194.0,456.0 2201.0,449.7 2206.3,449.7 2211.6,456.0 2220.3,462.0 2226.7,474.3 2232.6,487.6 2239.7,499.6 2244.9,505.9 2257.2,507.6 2262.5,512.9 2280.0,512.9 2285.3,518.2 2290.6,525.2 2297.6,532.2 2302.8,544.5 2311.6,556.8 2343.2,556.8 2350.2,565.6 2355.5,576.1 2357.3,583.1 2357.3,586.6 2350.2,593.6 2313.4,593.6 2308.1,586.6 2301.1,581.4 2295.8,574.3 2288.8,562.0 2281.8,555.0 2276.5,549.8 2269.5,549.8 2264.2,544.5 2244.9,544.5 2239.7,537.5 2233.7,530.5 2226.7,525.2 2220.3,512.9 2213.3,505.9 2183.5,505.9 2176.5,500.6 2171.2,493.6 2164.2,481.3 2157.8,469.0 2151.9,462.0 2145.9,449.7 2139.6,444.4 2132.6,444.4 2125.6,449.7 2115.0,456.0 2108.0,449.7 2101.0,444.4 2095.7,425.1 2088.4,393.1 2082.3,393.1 2082.3,380.8 2070.0,380.8 2070.0,387.9 2063.8,387.9 2063.8,400.2 2056.8,400.2 2056.8,406.3 2051.5,406.3 2051.5,406.3 2044.5,406.3 2044.5,400.2 2038.4,400.2 2038.4,387.9 2032.2,387.9 2032.2,362.4 2026.1,362.4 2026.1,344.0 2019.9,344.0 2019.9,325.6 2013.8,325.6 2013.8,319.4 2007.7,319.4 2007.7,331.7 2000.6,331.7 2000.6,356.3 1994.5,356.3 1994.5,374.7 1988.4,374.7 1988.4,380.8 1982.2,380.8 1982.2,380.8 1976.1,380.8 1976.1,374.7 1969.6,374.7 1969.6,356.3 1963.4,356.3 1963.4,331.7 1957.1,331.7 1957.1,307.1 1951.0,307.1 1951.0,287.8 1944.8,287.8 1944.8,294.0 1938.7,294.0 1938.7,319.4 1932.2,319.4 1932.2,356.3 1926.0,356.3 1926.0,387.9 1919.9,387.9 1919.9,412.4 1913.7,412.4 1913.7,418.6 1907.3,418.6 1907.3,412.4 1900.9,412.4 1900.9,380.8 1894.8,380.8 1894.8,344.0 1888.3,344.0 1888.3,319.4 1882.2,319.4 1882.2,325.6 1876.0,325.6 1876.0,362.4 1869.9,362.4 1869.9,424.7 1863.7,424.7 1863.7,493.7 1857.6,493.7 1857.6,556.0 1851.1,556.0 1851.1,572.7 1845.0,572.7 1845.0,583.0 1838.8,583.0 1838.8,583.0 1832.1,583.0 1832.1,550.0 1826.0,550.0 1826.0,513.0 1819.8,513.0 1819.8,493.7 1813.7,493.7 1813.7,550.0 1807.5,550.0 1807.5,674.5 1801.0,674.5 1801.0,718.4 1795.0,718.4"/>
<g style="mix-blend-mode:multiply"><g fill="#fad28c" transform="translate(-5,0)"><text x="1731.8" y="94.5" style='font-family:"Liberation Sans",sans-serif;font-size:80.67px' textLength="30.3" lengthAdjust="spacingAndGlyphs">1</text></g><g fill="#8ce6ff" transform="translate(5,0)"><text x="1731.8" y="94.5" style='font-family:"Liberation Sans",sans-serif;font-size:80.67px' textLength="30.3" lengthAdjust="spacingAndGlyphs">1</text></g></g><g fill="#180c28" filter="url(#er)"><text x="1731.8" y="94.5" style='font-family:"Liberation Sans",sans-serif;font-size:80.67px' textLength="30.3" lengthAdjust="spacingAndGlyphs">1</text></g>
<g style="mix-blend-mode:multiply"><g fill="#fad28c" transform="translate(-5,0)"><text x="1663.5" y="411.2" style='font-family:"Liberation Sans",sans-serif;font-size:78.11px' textLength="106.5" lengthAdjust="spacingAndGlyphs">0.5</text></g><g fill="#8ce6ff" transform="translate(5,0)"><text x="1663.5" y="411.2" style='font-family:"Liberation Sans",sans-serif;font-size:78.11px' textLength="106.5" lengthAdjust="spacingAndGlyphs">0.5</text></g></g><g fill="#180c28" filter="url(#er)"><text x="1663.5" y="411.2" style='font-family:"Liberation Sans",sans-serif;font-size:78.11px' textLength="106.5" lengthAdjust="spacingAndGlyphs">0.5</text></g>
<g style="mix-blend-mode:multiply"><g fill="#fad28c" transform="translate(-5,0)"><text x="1728.6" y="735.9" style='font-family:"Liberation Sans",sans-serif;font-size:78.67px' textLength="41.1" lengthAdjust="spacingAndGlyphs">0</text></g><g fill="#8ce6ff" transform="translate(5,0)"><text x="1728.6" y="735.9" style='font-family:"Liberation Sans",sans-serif;font-size:78.67px' textLength="41.1" lengthAdjust="spacingAndGlyphs">0</text></g></g><g fill="#180c28" filter="url(#er)"><text x="1728.6" y="735.9" style='font-family:"Liberation Sans",sans-serif;font-size:78.67px' textLength="41.1" lengthAdjust="spacingAndGlyphs">0</text></g>
<g style="mix-blend-mode:multiply"><g fill="#fad28c" transform="translate(-5,0)"><text x="1779.2" y="792.7" style='font-family:"Liberation Sans",sans-serif;font-size:76.98px' textLength="40.1" lengthAdjust="spacingAndGlyphs">0</text></g><g fill="#8ce6ff" transform="translate(5,0)"><text x="1779.2" y="792.7" style='font-family:"Liberation Sans",sans-serif;font-size:76.98px' textLength="40.1" lengthAdjust="spacingAndGlyphs">0</text></g></g><g fill="#180c28" filter="url(#er)"><text x="1779.2" y="792.7" style='font-family:"Liberation Sans",sans-serif;font-size:76.98px' textLength="40.1" lengthAdjust="spacingAndGlyphs">0</text></g>
<g style="mix-blend-mode:multiply"><g fill="#fad28c" transform="translate(-5,0)"><text x="1977.0" y="792.7" style='font-family:"Liberation Sans",sans-serif;font-size:78.11px' textLength="42.2" lengthAdjust="spacingAndGlyphs">5</text></g><g fill="#8ce6ff" transform="translate(5,0)"><text x="1977.0" y="792.7" style='font-family:"Liberation Sans",sans-serif;font-size:78.11px' textLength="42.2" lengthAdjust="spacingAndGlyphs">5</text></g></g><g fill="#180c28" filter="url(#er)"><text x="1977.0" y="792.7" style='font-family:"Liberation Sans",sans-serif;font-size:78.11px' textLength="42.2" lengthAdjust="spacingAndGlyphs">5</text></g>
<g style="mix-blend-mode:multiply"><g fill="#fad28c" transform="translate(-5,0)"><text x="2141.7" y="792.7" style='font-family:"Liberation Sans",sans-serif;font-size:76.98px' textLength="78.1" lengthAdjust="spacingAndGlyphs">10</text></g><g fill="#8ce6ff" transform="translate(5,0)"><text x="2141.7" y="792.7" style='font-family:"Liberation Sans",sans-serif;font-size:76.98px' textLength="78.1" lengthAdjust="spacingAndGlyphs">10</text></g></g><g fill="#180c28" filter="url(#er)"><text x="2141.7" y="792.7" style='font-family:"Liberation Sans",sans-serif;font-size:76.98px' textLength="78.1" lengthAdjust="spacingAndGlyphs">10</text></g>
<g style="mix-blend-mode:multiply"><g fill="#fad28c" transform="translate(-5,0)"><text x="2328.7" y="792.7" style='font-family:"Liberation Sans",sans-serif;font-size:78.11px' textLength="86.2" lengthAdjust="spacingAndGlyphs">15</text></g><g fill="#8ce6ff" transform="translate(5,0)"><text x="2328.7" y="792.7" style='font-family:"Liberation Sans",sans-serif;font-size:78.11px' textLength="86.2" lengthAdjust="spacingAndGlyphs">15</text></g></g><g fill="#180c28" filter="url(#er)"><text x="2328.7" y="792.7" style='font-family:"Liberation Sans",sans-serif;font-size:78.11px' textLength="86.2" lengthAdjust="spacingAndGlyphs">15</text></g>
<g style="mix-blend-mode:multiply"><g fill="#fad28c" transform="translate(-5,0)"><text x="1911.2" y="877.4" style='font-family:"Liberation Sans",sans-serif;font-size:73.70px' textLength="329.6" lengthAdjust="spacingAndGlyphs">Time (ps)</text></g><g fill="#8ce6ff" transform="translate(5,0)"><text x="1911.2" y="877.4" style='font-family:"Liberation Sans",sans-serif;font-size:73.70px' textLength="329.6" lengthAdjust="spacingAndGlyphs">Time (ps)</text></g></g><g fill="#180c28" filter="url(#er)"><text x="1911.2" y="877.4" style='font-family:"Liberation Sans",sans-serif;font-size:73.70px' textLength="329.6" lengthAdjust="spacingAndGlyphs">Time (ps)</text></g>
<rect x="2170.5" y="143.9" width="99.0" height="6.3" fill="#0000ff"/>
<rect x="2170.5" y="244.8" width="99.0" height="6.3" fill="#ff0000"/>
<text x="2287.8" y="165.3" style='font-family:"Liberation Serif",serif;font-style:italic;font-size:85.64px' textLength="49.6" lengthAdjust="spacingAndGlyphs" fill="#000">λ</text>
<text x="2326.7" y="186.4" style='font-family:"Liberation Serif",serif;font-size:42.89px' textLength="26.2" lengthAdjust="spacingAndGlyphs" fill="#000">2</text>
<text x="2282.1" y="270.7" style='font-family:"Liberation Serif",serif;font-style:italic;font-size:84.79px' textLength="48.2" lengthAdjust="spacingAndGlyphs" fill="#000">λ</text>
<text x="2319.7" y="291.3" style='font-family:"Liberation Serif",serif;font-size:41.82px' textLength="23.6" lengthAdjust="spacingAndGlyphs" fill="#000">3</text>
<text x="1845.5" y="658.7" style='font-family:"Liberation Serif",serif;font-style:italic;font-size:72.85px' textLength="41.2" lengthAdjust="spacingAndGlyphs" fill="#000">E</text>
<text x="1880.2" y="660.6" style='font-family:"Liberation Serif",serif;font-style:italic;font-size:46.55px' textLength="19.7" lengthAdjust="spacingAndGlyphs" fill="#000">f</text>
<text x="1898.8" y="658.6" style='font-family:"Liberation Serif",serif;font-size:71.63px' textLength="225.8" lengthAdjust="spacingAndGlyphs" fill="#000">=0.4eV</text>
<text x="2084.3" y="993.7" style='font-family:"Liberation Serif",serif;font-size:86.02px' textLength="94.5" lengthAdjust="spacingAndGlyphs" fill="#000">(<tspan style='font-family:"Liberation Serif",serif;font-weight:bold'>c</tspan>)</text>
</g>
<g id="pd">
<rect x="254.0" y="1060.0" width="581.0" height="642.0" fill="none" stroke="#000" stroke-width="6"/>
<rect x="445.0" y="1063.0" width="6" height="7"/>
<rect x="445.0" y="1692.0" width="6" height="7"/>
<rect x="638.0" y="1063.0" width="6" height="7"/>
<rect x="638.0" y="1692.0" width="6" height="7"/>
<rect x="257.0" y="1375.0" width="7" height="6"/>
<rect x="825.0" y="1375.0" width="7" height="6"/>
<polygon fill="#0000ff" points="255.8,1624.3 261.8,1620.8 263.9,1457.5 269.8,1457.5 269.8,1420.0 275.1,1420.0 276.9,1401.3 282.1,1401.3 282.1,1389.1 288.4,1389.1 288.4,1357.5 294.4,1357.5 294.4,1320.6 300.4,1320.6 301.4,1269.7 306.7,1269.7 306.7,1220.5 313.0,1220.5 313.7,1157.3 320.0,1157.3 320.0,1139.1 326.0,1139.1 326.0,1132.8 336.5,1132.8 336.5,1145.1 343.6,1145.1 343.6,1157.3 350.6,1157.3 350.6,1151.0 356.6,1151.0 356.6,1132.8 362.9,1132.8 363.6,1101.2 369.9,1101.2 369.9,1081.9 387.5,1081.9 387.5,1094.9 393.8,1094.9 393.8,1118.7 399.7,1118.7 399.7,1139.1 405.0,1185.4 419.1,1192.5 433.1,1176.7 440.1,1192.5 450.6,1224.1 468.2,1227.6 482.2,1220.5 492.8,1220.5 499.8,1241.6 506.8,1255.6 506.8,1283.7 513.1,1283.7 513.1,1296.0 519.1,1296.0 519.1,1314.6 543.7,1314.6 543.7,1320.6 550.7,1320.6 550.7,1332.9 556.7,1332.9 556.7,1345.2 563.0,1345.2 563.0,1369.8 569.3,1369.8 569.3,1388.4 576.3,1388.4 576.3,1401.3 588.3,1401.3 588.3,1395.4 599.9,1395.4 599.9,1401.3 606.9,1401.3 606.9,1413.6 612.8,1413.6 612.8,1425.9 619.2,1425.9 619.2,1450.5 625.5,1450.5 625.5,1463.5 631.5,1463.5 631.5,1469.8 643.7,1469.8 643.7,1463.5 656.0,1463.5 656.0,1469.8 663.1,1469.8 663.1,1482.1 669.0,1482.1 669.0,1501.4 675.3,1501.4 675.3,1513.7 681.7,1513.7 681.7,1520.0 706.2,1520.0 706.2,1526.0 712.2,1526.0 712.2,1532.3 719.2,1532.3 719.2,1538.3 725.2,1538.3 725.2,1550.6 731.5,1550.6 731.5,1556.9 737.8,1556.9 737.8,1563.9 768.4,1563.9 775.4,1571.6 780.7,1582.2 780.7,1588.5 787.7,1588.5 787.7,1601.5 813.0,1601.5 813.0,1594.4 819.3,1594.4 819.3,1601.5 825.6,1601.5 825.6,1606.7 831.6,1606.7 831.6,1631.3 825.6,1631.3 825.6,1624.3 819.3,1624.3 819.3,1617.3 782.4,1617.3 782.4,1610.9 775.4,1610.9 766.6,1599.7 759.6,1594.4 745.6,1594.4 738.5,1599.7 731.5,1592.7 724.5,1582.2 719.2,1576.9 712.2,1571.6 699.9,1563.9 694.7,1563.9 687.6,1557.6 681.7,1563.9 675.3,1557.6 675.3,1550.6 669.0,1543.5 663.1,1538.3 663.1,1520.0 657.1,1520.0 657.1,1513.7 638.5,1513.7 638.5,1520.0 631.5,1520.0 631.5,1513.7 625.5,1513.7 625.5,1507.7 619.2,1507.7 619.2,1494.4 612.8,1494.4 612.8,1476.1 606.9,1476.1 606.9,1463.5 599.9,1463.5 599.9,1457.5 587.6,1457.5 587.6,1463.5 576.3,1463.5 576.3,1450.5 569.3,1450.5 569.3,1438.2 563.0,1438.2 563.0,1425.9 556.7,1425.9 556.7,1406.6 550.7,1406.6 550.7,1395.4 543.7,1395.4 543.7,1389.1 531.4,1389.1 531.4,1395.4 519.1,1395.4 519.1,1389.1 513.1,1389.1 513.1,1369.8 506.8,1369.8 506.8,1357.5 500.5,1357.5 500.5,1325.9 494.5,1325.9 494.5,1313.6 475.9,1313.6 475.9,1318.8 464.0,1318.8 464.0,1313.6 457.7,1313.6 457.7,1294.3 450.6,1294.3 450.6,1269.7 444.7,1269.7 444.7,1250.4 438.4,1250.4 438.4,1238.1 431.3,1238.1 431.3,1243.4 425.4,1243.4 425.4,1250.4 419.1,1250.4 419.1,1255.6 401.5,1255.6 401.5,1245.1 394.5,1245.1 387.5,1227.6 375.2,1213.5 369.9,1241.6 362.9,1255.6 350.6,1252.1 345.3,1241.6 338.3,1238.1 332.0,1220.5 326.0,1220.5 320.0,1238.1 313.7,1290.8 307.4,1301.3 301.4,1364.5 296.2,1396.1 294.4,1420.0 288.4,1443.5 282.1,1457.5 281.4,1476.1 269.8,1476.1 263.9,1482.1 261.8,1627.8 255.8,1631.3"/>
<polygon fill="#ff0000" points="253.3,1701.5 254.7,1564.6 257.6,1533.0 263.9,1533.0 263.9,1482.1 269.8,1482.1 269.8,1476.1 281.4,1476.1 281.4,1501.4 288.4,1501.4 288.4,1489.1 294.4,1489.1 294.4,1462.8 300.4,1462.8 300.4,1363.8 307.4,1363.8 307.4,1301.3 313.7,1301.3 313.7,1232.8 320.0,1232.8 320.0,1214.2 326.0,1214.2 326.0,1208.3 332.0,1208.3 332.0,1220.5 338.3,1220.5 338.3,1238.1 344.6,1238.1 344.6,1250.4 350.6,1250.4 350.6,1214.2 356.6,1214.2 356.6,1182.6 362.9,1182.6 362.9,1126.5 369.9,1126.5 369.9,1107.5 375.2,1107.5 375.2,1101.2 387.5,1101.2 387.5,1113.5 394.5,1113.5 394.5,1139.1 400.8,1139.1 400.8,1145.1 406.8,1145.1 406.8,1139.1 412.7,1139.1 412.7,1113.5 419.1,1113.5 419.1,1088.9 425.4,1088.9 425.4,1076.6 431.3,1076.6 431.3,1070.3 438.4,1070.3 438.4,1082.6 444.7,1082.6 444.7,1101.2 450.6,1101.2 450.6,1120.5 456.6,1120.5 456.6,1132.8 468.9,1132.8 468.9,1120.5 475.9,1120.5 475.9,1107.5 481.5,1107.5 481.5,1101.2 488.6,1101.2 488.6,1107.5 494.5,1107.5 494.5,1113.5 500.5,1113.5 500.5,1132.8 506.8,1132.8 506.8,1151.0 513.1,1151.0 513.1,1163.7 525.1,1163.7 525.1,1157.3 543.7,1157.3 543.7,1163.7 550.7,1163.7 550.7,1176.7 556.7,1176.7 556.7,1188.9 563.0,1188.9 563.0,1208.3 569.3,1208.3 569.3,1214.2 576.3,1214.2 576.3,1220.5 599.9,1220.5 599.9,1232.8 606.9,1232.8 606.9,1252.1 612.8,1252.1 612.8,1269.7 626.2,1269.7 626.2,1276.0 638.5,1276.0 638.5,1282.0 657.1,1282.0 657.1,1294.3 663.1,1294.3 663.1,1301.3 669.0,1301.3 669.0,1318.8 675.3,1318.8 675.3,1325.9 681.7,1325.9 681.7,1332.9 687.6,1332.9 687.6,1339.2 706.9,1339.2 706.9,1351.1 719.2,1351.1 719.2,1363.8 725.2,1363.8 725.2,1376.8 731.5,1376.8 731.5,1389.1 743.8,1389.1 743.8,1395.4 756.1,1395.4 756.1,1401.3 763.1,1401.3 763.1,1413.6 775.4,1413.6 775.4,1420.0 782.4,1420.0 782.4,1425.9 794.0,1425.9 794.0,1438.2 800.0,1438.2 800.0,1444.5 813.0,1444.5 813.0,1450.5 825.6,1450.5 825.6,1463.5 831.6,1463.5 831.6,1505.6 819.3,1505.6 819.3,1499.7 813.0,1499.7 813.0,1494.4 794.0,1494.4 794.0,1488.1 787.7,1488.1 787.7,1482.1 775.4,1482.1 775.4,1469.8 769.4,1469.8 769.4,1463.5 763.1,1463.5 763.1,1457.5 756.8,1457.5 756.8,1450.5 737.8,1450.5 737.8,1444.5 731.5,1444.5 731.5,1438.2 725.2,1438.2 725.2,1431.9 719.2,1431.9 719.2,1420.0 713.3,1420.0 713.3,1413.6 706.9,1413.6 706.9,1406.6 687.6,1406.6 687.6,1401.3 675.3,1401.3 675.3,1395.4 669.0,1395.4 669.0,1376.8 663.1,1376.8 663.1,1369.8 657.1,1369.8 657.1,1357.5 643.7,1357.5 643.7,1351.1 626.2,1351.1 626.2,1345.2 619.2,1345.2 619.2,1339.2 612.8,1339.2 612.8,1325.9 606.9,1325.9 606.9,1313.6 600.9,1313.6 600.9,1301.3 563.0,1301.3 563.0,1289.0 556.7,1289.0 556.7,1269.7 550.7,1269.7 550.7,1257.4 543.7,1257.4 543.7,1250.4 534.2,1250.4 534.2,1245.1 525.1,1245.1 525.1,1250.4 519.1,1250.4 519.1,1257.4 513.1,1257.4 513.1,1250.4 506.8,1250.4 506.8,1245.1 500.5,1245.1 500.5,1232.8 494.5,1232.8 494.5,1214.2 488.6,1214.2 488.6,1208.3 482.2,1208.3 482.2,1201.2 475.9,1201.2 475.9,1220.5 468.9,1220.5 468.9,1226.5 462.9,1226.5 462.9,1231.1 457.7,1231.1 457.7,1220.5 450.6,1220.5 450.6,1208.3 444.7,1208.3 444.7,1196.0 438.4,1196.0 438.4,1188.9 433.1,1188.9 433.1,1176.7 432.4,1176.7 425.4,1199.5 419.1,1208.3 419.1,1220.5 412.7,1220.5 412.7,1245.1 394.5,1245.1 394.5,1226.9 387.5,1226.9 387.5,1208.3 381.1,1208.3 381.1,1195.3 375.2,1195.3 375.2,1220.5 369.2,1220.5 369.2,1245.1 362.9,1245.1 362.9,1287.9 356.6,1287.9 356.6,1318.8 350.6,1318.8 350.6,1331.1 338.3,1331.1 338.3,1318.8 332.0,1318.8 332.0,1294.3 326.0,1294.3 326.0,1301.3 320.0,1301.3 320.0,1331.1 313.7,1331.1 313.7,1406.6 307.4,1406.6 307.4,1462.8 300.4,1462.8 300.4,1526.0 294.4,1526.0 294.4,1550.6 288.4,1550.6 288.4,1556.9 282.1,1556.9 282.1,1538.3 275.1,1538.3 275.1,1520.0 269.8,1520.0 269.8,1538.3 263.9,1538.3 263.9,1589.2 257.6,1624.3 254.7,1701.5"/>
<g style="mix-blend-mode:multiply"><g fill="#fad28c" transform="translate(-5,0)"><text x="187.9" y="1081.6" style='font-family:"Liberation Sans",sans-serif;font-size:80.82px' textLength="29.7" lengthAdjust="spacingAndGlyphs">1</text></g><g fill="#8ce6ff" transform="translate(5,0)"><text x="187.9" y="1081.6" style='font-family:"Liberation Sans",sans-serif;font-size:80.82px' textLength="29.7" lengthAdjust="spacingAndGlyphs">1</text></g></g><g fill="#180c28" filter="url(#er)"><text x="187.9" y="1081.6" style='font-family:"Liberation Sans",sans-serif;font-size:80.82px' textLength="29.7" lengthAdjust="spacingAndGlyphs">1</text></g>
<g style="mix-blend-mode:multiply"><g fill="#fad28c" transform="translate(-5,0)"><text x="126.2" y="1399.9" style='font-family:"Liberation Sans",sans-serif;font-size:79.24px' textLength="98.8" lengthAdjust="spacingAndGlyphs">0.5</text></g><g fill="#8ce6ff" transform="translate(5,0)"><text x="126.2" y="1399.9" style='font-family:"Liberation Sans",sans-serif;font-size:79.24px' textLength="98.8" lengthAdjust="spacingAndGlyphs">0.5</text></g></g><g fill="#180c28" filter="url(#er)"><text x="126.2" y="1399.9" style='font-family:"Liberation Sans",sans-serif;font-size:79.24px' textLength="98.8" lengthAdjust="spacingAndGlyphs">0.5</text></g>
<g style="mix-blend-mode:multiply"><g fill="#fad28c" transform="translate(-5,0)"><text x="184.5" y="1714.8" style='font-family:"Liberation Sans",sans-serif;font-size:68.93px' textLength="34.9" lengthAdjust="spacingAndGlyphs">0</text></g><g fill="#8ce6ff" transform="translate(5,0)"><text x="184.5" y="1714.8" style='font-family:"Liberation Sans",sans-serif;font-size:68.93px' textLength="34.9" lengthAdjust="spacingAndGlyphs">0</text></g></g><g fill="#180c28" filter="url(#er)"><text x="184.5" y="1714.8" style='font-family:"Liberation Sans",sans-serif;font-size:68.93px' textLength="34.9" lengthAdjust="spacingAndGlyphs">0</text></g>
<g style="mix-blend-mode:multiply"><g fill="#fad28c" transform="translate(-5,0)"><text x="229.3" y="1787.3" style='font-family:"Liberation Sans",sans-serif;font-size:76.27px' textLength="38.4" lengthAdjust="spacingAndGlyphs">0</text></g><g fill="#8ce6ff" transform="translate(5,0)"><text x="229.3" y="1787.3" style='font-family:"Liberation Sans",sans-serif;font-size:76.27px' textLength="38.4" lengthAdjust="spacingAndGlyphs">0</text></g></g><g fill="#180c28" filter="url(#er)"><text x="229.3" y="1787.3" style='font-family:"Liberation Sans",sans-serif;font-size:76.27px' textLength="38.4" lengthAdjust="spacingAndGlyphs">0</text></g>
<g style="mix-blend-mode:multiply"><g fill="#fad28c" transform="translate(-5,0)"><text x="421.0" y="1787.2" style='font-family:"Liberation Sans",sans-serif;font-size:77.39px' textLength="42.2" lengthAdjust="spacingAndGlyphs">5</text></g><g fill="#8ce6ff" transform="translate(5,0)"><text x="421.0" y="1787.2" style='font-family:"Liberation Sans",sans-serif;font-size:77.39px' textLength="42.2" lengthAdjust="spacingAndGlyphs">5</text></g></g><g fill="#180c28" filter="url(#er)"><text x="421.0" y="1787.2" style='font-family:"Liberation Sans",sans-serif;font-size:77.39px' textLength="42.2" lengthAdjust="spacingAndGlyphs">5</text></g>
<g style="mix-blend-mode:multiply"><g fill="#fad28c" transform="translate(-5,0)"><text x="586.7" y="1787.3" style='font-family:"Liberation Sans",sans-serif;font-size:76.27px' textLength="78.1" lengthAdjust="spacingAndGlyphs">10</text></g><g fill="#8ce6ff" transform="translate(5,0)"><text x="586.7" y="1787.3" style='font-family:"Liberation Sans",sans-serif;font-size:76.27px' textLength="78.1" lengthAdjust="spacingAndGlyphs">10</text></g></g><g fill="#180c28" filter="url(#er)"><text x="586.7" y="1787.3" style='font-family:"Liberation Sans",sans-serif;font-size:76.27px' textLength="78.1" lengthAdjust="spacingAndGlyphs">10</text></g>
<g style="mix-blend-mode:multiply"><g fill="#fad28c" transform="translate(-5,0)"><text x="780.0" y="1787.2" style='font-family:"Liberation Sans",sans-serif;font-size:77.39px' textLength="82.1" lengthAdjust="spacingAndGlyphs">15</text></g><g fill="#8ce6ff" transform="translate(5,0)"><text x="780.0" y="1787.2" style='font-family:"Liberation Sans",sans-serif;font-size:77.39px' textLength="82.1" lengthAdjust="spacingAndGlyphs">15</text></g></g><g fill="#180c28" filter="url(#er)"><text x="780.0" y="1787.2" style='font-family:"Liberation Sans",sans-serif;font-size:77.39px' textLength="82.1" lengthAdjust="spacingAndGlyphs">15</text></g>
<g style="mix-blend-mode:multiply"><g fill="#fad28c" transform="translate(-5,0)"><text x="360.1" y="1872.6" style='font-family:"Liberation Sans",sans-serif;font-size:76.06px' textLength="329.5" lengthAdjust="spacingAndGlyphs">Time (ps)</text></g><g fill="#8ce6ff" transform="translate(5,0)"><text x="360.1" y="1872.6" style='font-family:"Liberation Sans",sans-serif;font-size:76.06px' textLength="329.5" lengthAdjust="spacingAndGlyphs">Time (ps)</text></g></g><g fill="#180c28" filter="url(#er)"><text x="360.1" y="1872.6" style='font-family:"Liberation Sans",sans-serif;font-size:76.06px' textLength="329.5" lengthAdjust="spacingAndGlyphs">Time (ps)</text></g>
<g style="mix-blend-mode:multiply"><g fill="#fad28c" transform="translate(-5,0)"><g transform="rotate(-90)"><text x="-1695.7" y="99.1" style='font-family:"Liberation Sans",sans-serif;font-size:78.85px' textLength="618.4" lengthAdjust="spacingAndGlyphs">Total energy (a.u.)</text></g></g><g fill="#8ce6ff" transform="translate(5,0)"><g transform="rotate(-90)"><text x="-1695.7" y="99.1" style='font-family:"Liberation Sans",sans-serif;font-size:78.85px' textLength="618.4" lengthAdjust="spacingAndGlyphs">Total energy (a.u.)</text></g></g></g><g fill="#180c28" filter="url(#er)"><g transform="rotate(-90)"><text x="-1695.7" y="99.1" style='font-family:"Liberation Sans",sans-serif;font-size:78.85px' textLength="618.4" lengthAdjust="spacingAndGlyphs">Total energy (a.u.)</text></g></g>
<rect x="626.0" y="1113.3" width="99.0" height="6.3" fill="#0000ff"/>
<rect x="626.0" y="1212.6" width="99.0" height="6.3" fill="#ff0000"/>
<text x="757.2" y="1136.3" style='font-family:"Liberation Serif",serif;font-style:italic;font-size:87.35px' textLength="49.3" lengthAdjust="spacingAndGlyphs" fill="#000">λ</text>
<text x="794.2" y="1157.4" style='font-family:"Liberation Serif",serif;font-size:45.16px' textLength="26.3" lengthAdjust="spacingAndGlyphs" fill="#000">2</text>
<text x="757.1" y="1240.0" style='font-family:"Liberation Serif",serif;font-style:italic;font-size:85.21px' textLength="47.5" lengthAdjust="spacingAndGlyphs" fill="#000">λ</text>
<text x="792.3" y="1260.6" style='font-family:"Liberation Serif",serif;font-size:41.67px' textLength="25.5" lengthAdjust="spacingAndGlyphs" fill="#000">3</text>
<text x="298.4" y="1657.4" style='font-family:"Liberation Serif",serif;font-size:81.58px' textLength="204.1" lengthAdjust="spacingAndGlyphs" fill="#000">μ=1 m</text>
<text x="501.6" y="1628.0" style='font-family:"Liberation Serif",serif;font-size:48.33px' textLength="24.6" lengthAdjust="spacingAndGlyphs" fill="#000">2</text>
<text x="527.0" y="1653.8" style='font-family:"Liberation Serif",serif;font-size:76.10px' textLength="169.1" lengthAdjust="spacingAndGlyphs" fill="#000">/(V·s)</text>
<text x="325.5" y="1987.0" style='font-family:"Liberation Serif",serif;font-size:85.91px' textLength="110.4" lengthAdjust="spacingAndGlyphs" fill="#000">(<tspan style='font-family:"Liberation Serif",serif;font-weight:bold'>d</tspan>)</text>
</g>
<g id="pe">
<rect x="1010.0" y="1061.0" width="580.5" height="650.0" fill="none" stroke="#000" stroke-width="6"/>
<rect x="1201.0" y="1064.0" width="6" height="7"/>
<rect x="1201.0" y="1701.0" width="6" height="7"/>
<rect x="1394.0" y="1064.0" width="6" height="7"/>
<rect x="1394.0" y="1701.0" width="6" height="7"/>
<rect x="1013.0" y="1381.5" width="7" height="6"/>
<rect x="1580.5" y="1381.5" width="7" height="6"/>
<polygon fill="#0000ff" points="1010.5,1669.9 1013.3,1648.9 1019.3,1648.9 1019.3,1508.4 1025.3,1508.4 1025.3,1483.9 1031.6,1483.9 1031.6,1469.8 1037.9,1469.8 1037.9,1457.5 1043.9,1457.5 1043.9,1438.2 1050.9,1438.2 1050.9,1406.6 1056.9,1406.6 1056.9,1376.8 1063.2,1376.8 1063.2,1338.2 1069.5,1338.2 1069.5,1301.3 1075.5,1301.3 1075.5,1289.0 1087.8,1289.0 1087.8,1295.0 1094.1,1295.0 1094.1,1307.6 1100.1,1307.6 1100.1,1325.9 1113.0,1325.9 1113.0,1313.6 1119.4,1313.6 1119.4,1295.0 1125.7,1295.0 1125.7,1289.0 1137.6,1289.0 1137.6,1295.0 1143.9,1295.0 1143.9,1307.6 1150.3,1307.6 1150.3,1332.2 1156.2,1332.2 1156.2,1350.4 1162.2,1350.4 1162.2,1357.5 1168.5,1378.5 1182.6,1382.0 1193.1,1396.1 1203.6,1424.2 1214.2,1441.7 1228.2,1438.2 1242.2,1438.2 1249.3,1452.3 1258.0,1469.8 1264.0,1482.1 1270.3,1494.4 1275.6,1506.7 1300.2,1506.7 1307.2,1519.0 1313.2,1531.2 1319.5,1543.5 1325.8,1557.6 1331.8,1562.8 1356.3,1562.8 1361.6,1569.9 1368.6,1575.1 1375.0,1582.2 1380.9,1594.4 1400.2,1599.7 1419.5,1606.7 1425.5,1617.3 1431.8,1626.0 1456.4,1632.0 1463.4,1638.3 1475.7,1638.3 1481.0,1645.4 1488.0,1650.6 1519.6,1655.9 1526.6,1662.9 1581.0,1663.6 1581.0,1675.2 1575.8,1680.5 1531.9,1680.5 1526.6,1675.2 1519.6,1669.9 1488.0,1669.9 1481.7,1662.9 1475.7,1657.6 1463.4,1655.9 1456.4,1650.6 1450.1,1655.9 1438.9,1655.9 1432.5,1650.6 1425.5,1643.6 1419.5,1638.3 1412.5,1632.0 1400.2,1626.0 1395.0,1632.0 1389.7,1632.0 1387.9,1626.0 1375.7,1626.0 1368.6,1613.8 1363.4,1606.7 1356.3,1601.5 1344.1,1594.4 1331.8,1594.4 1325.8,1587.4 1319.5,1575.1 1313.2,1568.1 1307.2,1557.6 1300.2,1550.6 1282.6,1550.6 1275.6,1548.8 1269.6,1543.5 1262.6,1531.2 1256.3,1519.0 1250.0,1506.7 1250.0,1494.4 1244.0,1494.4 1231.7,1489.1 1219.4,1494.4 1213.5,1487.4 1207.1,1475.1 1200.1,1455.8 1193.1,1443.5 1187.8,1431.2 1182.6,1424.2 1175.5,1424.2 1168.5,1431.2 1162.2,1431.2 1156.2,1424.2 1151.0,1417.1 1143.9,1378.5 1131.7,1361.0 1124.6,1368.0 1105.3,1382.0 1094.8,1375.0 1087.8,1368.0 1075.5,1392.6 1069.5,1417.1 1063.2,1448.7 1056.9,1487.4 1050.9,1494.4 1043.9,1519.0 1031.6,1522.5 1025.3,1526.0 1019.3,1526.0 1018.3,1648.9 1013.3,1655.9"/>
<polygon fill="#ff0000" points="1009.8,1712.1 1009.8,1648.9 1014.0,1648.9 1014.0,1562.8 1019.3,1562.8 1019.3,1526.0 1036.9,1526.0 1036.9,1550.6 1044.9,1550.6 1044.9,1543.5 1050.9,1543.5 1050.9,1513.7 1056.9,1513.7 1056.9,1450.5 1063.2,1450.5 1063.2,1406.6 1069.5,1406.6 1069.5,1357.5 1075.5,1357.5 1075.5,1345.2 1087.8,1345.2 1087.8,1357.5 1094.1,1357.5 1094.1,1375.0 1100.1,1375.0 1100.1,1387.3 1105.3,1387.3 1107.1,1369.8 1113.0,1369.8 1113.0,1350.4 1119.4,1350.4 1119.4,1313.6 1125.7,1313.6 1125.7,1301.3 1137.6,1301.3 1137.6,1313.6 1143.9,1313.6 1143.9,1325.9 1150.3,1325.9 1150.3,1345.2 1156.2,1345.2 1156.2,1357.5 1168.5,1357.5 1168.5,1338.2 1175.5,1338.2 1175.5,1332.2 1181.9,1332.2 1181.9,1325.9 1193.1,1325.9 1193.1,1338.2 1200.1,1338.2 1200.1,1350.4 1207.1,1350.4 1207.1,1369.8 1213.5,1369.8 1213.5,1382.0 1231.7,1382.0 1231.7,1376.8 1244.0,1376.8 1244.0,1382.0 1250.0,1382.0 1250.0,1388.4 1256.3,1388.4 1256.3,1406.6 1262.6,1406.6 1262.6,1420.0 1269.6,1420.0 1269.6,1432.2 1300.2,1432.2 1300.2,1438.2 1307.2,1438.2 1307.2,1450.5 1313.2,1450.5 1313.2,1462.8 1319.5,1462.8 1319.5,1469.8 1325.8,1469.8 1325.8,1476.1 1331.8,1476.1 1331.8,1482.1 1350.4,1482.1 1350.4,1489.1 1356.3,1489.1 1356.3,1494.4 1362.3,1494.4 1362.3,1501.4 1368.6,1501.4 1368.6,1507.7 1375.0,1507.7 1375.0,1519.0 1387.9,1519.0 1387.9,1526.0 1400.2,1526.0 1400.2,1532.3 1412.5,1532.3 1412.5,1538.3 1419.5,1538.3 1419.5,1545.3 1425.5,1545.3 1425.5,1556.9 1437.1,1556.9 1437.1,1562.8 1450.1,1562.8 1450.1,1569.9 1462.7,1569.9 1462.7,1575.1 1475.7,1575.1 1475.7,1588.5 1488.0,1588.5 1488.0,1594.4 1512.6,1594.4 1512.6,1600.4 1524.9,1600.4 1524.9,1606.7 1531.9,1606.7 1531.9,1613.1 1544.2,1613.1 1544.2,1619.0 1561.7,1619.0 1561.7,1624.3 1575.8,1624.3 1575.8,1631.3 1582.1,1631.3 1582.1,1643.6 1557.5,1643.6 1557.5,1638.3 1538.9,1638.3 1538.9,1632.0 1526.6,1632.0 1526.6,1626.0 1513.3,1626.0 1513.3,1619.7 1488.0,1619.7 1488.0,1613.1 1475.7,1613.1 1475.7,1606.7 1456.4,1606.7 1456.4,1600.4 1444.1,1600.4 1444.1,1594.4 1431.8,1594.4 1431.8,1588.5 1419.5,1588.5 1419.5,1582.2 1407.3,1582.2 1407.3,1569.9 1400.2,1569.9 1400.2,1563.9 1382.0,1563.9 1382.0,1556.9 1375.0,1556.9 1375.0,1550.6 1368.6,1550.6 1368.6,1538.3 1356.3,1538.3 1356.3,1532.3 1350.4,1532.3 1350.4,1526.0 1325.8,1526.0 1325.8,1519.0 1319.5,1519.0 1319.5,1507.7 1313.2,1507.7 1313.2,1501.4 1307.2,1501.4 1307.2,1494.4 1294.9,1494.4 1294.9,1482.1 1269.6,1482.1 1269.6,1476.1 1263.3,1476.1 1263.3,1469.8 1256.3,1469.8 1256.3,1450.5 1250.0,1450.5 1250.0,1445.2 1244.0,1445.2 1244.0,1432.2 1238.7,1432.2 1238.7,1438.2 1224.7,1438.2 1224.7,1444.5 1213.5,1444.5 1213.5,1438.2 1207.1,1438.2 1207.1,1425.9 1200.1,1425.9 1200.1,1413.6 1193.1,1413.6 1193.1,1396.1 1182.6,1396.1 1182.6,1401.3 1175.5,1401.3 1175.5,1406.6 1170.3,1406.6 1170.3,1413.6 1156.2,1413.6 1156.2,1420.0 1150.3,1420.0 1150.3,1401.3 1143.9,1401.3 1143.9,1389.1 1137.6,1389.1 1137.6,1369.8 1131.7,1369.8 1131.7,1376.8 1125.7,1376.8 1125.7,1394.3 1119.4,1394.3 1119.4,1425.9 1113.0,1425.9 1113.0,1444.5 1105.3,1444.5 1105.3,1450.5 1094.1,1450.5 1094.1,1438.2 1087.8,1438.2 1087.8,1413.6 1081.5,1413.6 1081.5,1406.6 1075.5,1406.6 1075.5,1425.9 1069.5,1425.9 1069.5,1482.1 1063.2,1482.1 1063.2,1524.2 1056.9,1524.2 1056.9,1575.1 1050.9,1575.1 1050.9,1592.7 1038.6,1592.7 1038.6,1575.1 1031.6,1575.1 1031.6,1562.8 1025.3,1562.8 1025.3,1568.1 1019.3,1568.1 1019.3,1648.9 1013.3,1648.9 1013.3,1712.1"/>
<g style="mix-blend-mode:multiply"><g fill="#fad28c" transform="translate(-5,0)"><text x="943.7" y="1081.5" style='font-family:"Liberation Sans",sans-serif;font-size:71.95px' textLength="31.6" lengthAdjust="spacingAndGlyphs">1</text></g><g fill="#8ce6ff" transform="translate(5,0)"><text x="943.7" y="1081.5" style='font-family:"Liberation Sans",sans-serif;font-size:71.95px' textLength="31.6" lengthAdjust="spacingAndGlyphs">1</text></g></g><g fill="#180c28" filter="url(#er)"><text x="943.7" y="1081.5" style='font-family:"Liberation Sans",sans-serif;font-size:71.95px' textLength="31.6" lengthAdjust="spacingAndGlyphs">1</text></g>
<g style="mix-blend-mode:multiply"><g fill="#fad28c" transform="translate(-5,0)"><text x="876.1" y="1405.7" style='font-family:"Liberation Sans",sans-serif;font-size:78.67px' textLength="104.1" lengthAdjust="spacingAndGlyphs">0.5</text></g><g fill="#8ce6ff" transform="translate(5,0)"><text x="876.1" y="1405.7" style='font-family:"Liberation Sans",sans-serif;font-size:78.67px' textLength="104.1" lengthAdjust="spacingAndGlyphs">0.5</text></g></g><g fill="#180c28" filter="url(#er)"><text x="876.1" y="1405.7" style='font-family:"Liberation Sans",sans-serif;font-size:78.67px' textLength="104.1" lengthAdjust="spacingAndGlyphs">0.5</text></g>
<g style="mix-blend-mode:multiply"><g fill="#fad28c" transform="translate(-5,0)"><text x="938.8" y="1730.3" style='font-family:"Liberation Sans",sans-serif;font-size:76.27px' textLength="41.1" lengthAdjust="spacingAndGlyphs">0</text></g><g fill="#8ce6ff" transform="translate(5,0)"><text x="938.8" y="1730.3" style='font-family:"Liberation Sans",sans-serif;font-size:76.27px' textLength="41.1" lengthAdjust="spacingAndGlyphs">0</text></g></g><g fill="#180c28" filter="url(#er)"><text x="938.8" y="1730.3" style='font-family:"Liberation Sans",sans-serif;font-size:76.27px' textLength="41.1" lengthAdjust="spacingAndGlyphs">0</text></g>
<g style="mix-blend-mode:multiply"><g fill="#fad28c" transform="translate(-5,0)"><text x="989.3" y="1787.9" style='font-family:"Liberation Sans",sans-serif;font-size:77.26px' textLength="38.4" lengthAdjust="spacingAndGlyphs">0</text></g><g fill="#8ce6ff" transform="translate(5,0)"><text x="989.3" y="1787.9" style='font-family:"Liberation Sans",sans-serif;font-size:77.26px' textLength="38.4" lengthAdjust="spacingAndGlyphs">0</text></g></g><g fill="#180c28" filter="url(#er)"><text x="989.3" y="1787.9" style='font-family:"Liberation Sans",sans-serif;font-size:77.26px' textLength="38.4" lengthAdjust="spacingAndGlyphs">0</text></g>
<g style="mix-blend-mode:multiply"><g fill="#fad28c" transform="translate(-5,0)"><text x="1183.5" y="1787.9" style='font-family:"Liberation Sans",sans-serif;font-size:78.39px' textLength="42.1" lengthAdjust="spacingAndGlyphs">5</text></g><g fill="#8ce6ff" transform="translate(5,0)"><text x="1183.5" y="1787.9" style='font-family:"Liberation Sans",sans-serif;font-size:78.39px' textLength="42.1" lengthAdjust="spacingAndGlyphs">5</text></g></g><g fill="#180c28" filter="url(#er)"><text x="1183.5" y="1787.9" style='font-family:"Liberation Sans",sans-serif;font-size:78.39px' textLength="42.1" lengthAdjust="spacingAndGlyphs">5</text></g>
<g style="mix-blend-mode:multiply"><g fill="#fad28c" transform="translate(-5,0)"><text x="1347.4" y="1787.9" style='font-family:"Liberation Sans",sans-serif;font-size:77.26px' textLength="82.2" lengthAdjust="spacingAndGlyphs">10</text></g><g fill="#8ce6ff" transform="translate(5,0)"><text x="1347.4" y="1787.9" style='font-family:"Liberation Sans",sans-serif;font-size:77.26px' textLength="82.2" lengthAdjust="spacingAndGlyphs">10</text></g></g><g fill="#180c28" filter="url(#er)"><text x="1347.4" y="1787.9" style='font-family:"Liberation Sans",sans-serif;font-size:77.26px' textLength="82.2" lengthAdjust="spacingAndGlyphs">10</text></g>
<g style="mix-blend-mode:multiply"><g fill="#fad28c" transform="translate(-5,0)"><text x="1542.4" y="1787.9" style='font-family:"Liberation Sans",sans-serif;font-size:78.39px' textLength="82.2" lengthAdjust="spacingAndGlyphs">15</text></g><g fill="#8ce6ff" transform="translate(5,0)"><text x="1542.4" y="1787.9" style='font-family:"Liberation Sans",sans-serif;font-size:78.39px' textLength="82.2" lengthAdjust="spacingAndGlyphs">15</text></g></g><g fill="#180c28" filter="url(#er)"><text x="1542.4" y="1787.9" style='font-family:"Liberation Sans",sans-serif;font-size:78.39px' textLength="82.2" lengthAdjust="spacingAndGlyphs">15</text></g>
<g style="mix-blend-mode:multiply"><g fill="#fad28c" transform="translate(-5,0)"><text x="1121.2" y="1872.3" style='font-family:"Liberation Sans",sans-serif;font-size:75.63px' textLength="331.6" lengthAdjust="spacingAndGlyphs">Time (ps)</text></g><g fill="#8ce6ff" transform="translate(5,0)"><text x="1121.2" y="1872.3" style='font-family:"Liberation Sans",sans-serif;font-size:75.63px' textLength="331.6" lengthAdjust="spacingAndGlyphs">Time (ps)</text></g></g><g fill="#180c28" filter="url(#er)"><text x="1121.2" y="1872.3" style='font-family:"Liberation Sans",sans-serif;font-size:75.63px' textLength="331.6" lengthAdjust="spacingAndGlyphs">Time (ps)</text></g>
<rect x="1376.4" y="1338.3" width="99.4" height="6.3" fill="#0000ff"/>
<rect x="1376.4" y="1437.8" width="99.4" height="6.3" fill="#ff0000"/>
<text x="1504.8" y="1361.0" style='font-family:"Liberation Serif",serif;font-style:italic;font-size:87.20px' textLength="49.1" lengthAdjust="spacingAndGlyphs" fill="#000">λ</text>
<text x="1540.4" y="1382.0" style='font-family:"Liberation Serif",serif;font-size:42.29px' textLength="24.1" lengthAdjust="spacingAndGlyphs" fill="#000">2</text>
<text x="1506.7" y="1466.0" style='font-family:"Liberation Serif",serif;font-style:italic;font-size:84.36px' textLength="47.1" lengthAdjust="spacingAndGlyphs" fill="#000">λ</text>
<text x="1539.9" y="1487.0" style='font-family:"Liberation Serif",serif;font-size:42.27px' textLength="27.2" lengthAdjust="spacingAndGlyphs" fill="#000">3</text>
<text x="1122.9" y="1229.9" style='font-family:"Liberation Serif",serif;font-size:79.53px' textLength="243.2" lengthAdjust="spacingAndGlyphs" fill="#000">μ=0.6m</text>
<text x="1363.5" y="1203.4" style='font-family:"Liberation Serif",serif;font-size:47.73px' textLength="28.2" lengthAdjust="spacingAndGlyphs" fill="#000">2</text>
<text x="1391.2" y="1229.5" style='font-family:"Liberation Serif",serif;font-size:75.66px' textLength="166.3" lengthAdjust="spacingAndGlyphs" fill="#000">/(V·s)</text>
<text x="1224.6" y="1986.7" style='font-family:"Liberation Serif",serif;font-size:86.02px' textLength="102.4" lengthAdjust="spacingAndGlyphs" fill="#000">(<tspan style='font-family:"Liberation Serif",serif;font-weight:bold'>e</tspan>)</text>
</g>
<g id="pf">
<rect x="1779.0" y="1060.0" width="581.0" height="644.0" fill="none" stroke="#000" stroke-width="6"/>
<rect x="1969.0" y="1063.0" width="6" height="7"/>
<rect x="1969.0" y="1694.0" width="6" height="7"/>
<rect x="2163.0" y="1063.0" width="6" height="7"/>
<rect x="2163.0" y="1694.0" width="6" height="7"/>
<rect x="1782.0" y="1182.5" width="7" height="6"/>
<rect x="2350.0" y="1182.5" width="7" height="6"/>
<rect x="1782.0" y="1442.0" width="7" height="6"/>
<rect x="2350.0" y="1442.0" width="7" height="6"/>
<polygon fill="#0000ff" points="1783.3,1468.1 1783.3,1231.1 1788.3,1231.1 1788.3,1107.5 1800.9,1107.5 1800.9,1145.1 1806.9,1145.1 1806.9,1207.2 1812.8,1207.2 1812.8,1257.4 1819.2,1257.4 1819.2,1275.7 1825.5,1275.7 1825.5,1269.7 1832.5,1269.7 1832.5,1263.4 1837.4,1263.4 1837.4,1269.7 1843.7,1269.7 1843.7,1301.3 1850.0,1301.3 1850.0,1325.9 1851.5,1361.0 1856.0,1361.0 1856.0,1410.1 1863.0,1410.1 1863.0,1462.8 1869.0,1462.8 1869.0,1506.7 1875.3,1506.7 1875.3,1531.2 1881.6,1531.2 1881.6,1543.5 1887.6,1543.5 1887.6,1550.6 1893.6,1550.6 1893.6,1562.8 1900.6,1562.8 1900.6,1575.1 1906.2,1575.1 1906.2,1594.4 1912.2,1594.4 1912.2,1612.0 1919.2,1612.0 1919.2,1638.3 1925.2,1638.3 1925.2,1643.6 1931.5,1643.6 1931.5,1650.6 1945.5,1650.6 1945.5,1655.9 1956.1,1655.9 1962.4,1662.9 1968.4,1669.9 1975.4,1676.9 1980.6,1676.9 1980.6,1691.0 1975.4,1691.0 1966.6,1680.5 1956.1,1675.2 1945.5,1668.2 1933.3,1668.2 1925.2,1657.6 1919.2,1648.9 1912.2,1636.6 1906.2,1620.8 1899.9,1610.2 1893.6,1599.7 1887.6,1587.4 1875.3,1587.4 1870.1,1580.4 1864.1,1564.6 1857.8,1550.6 1851.5,1508.4 1850.7,1466.3 1845.5,1431.2 1838.5,1413.6 1831.4,1417.1 1826.2,1368.0 1819.2,1368.0 1812.8,1350.4 1806.9,1350.4 1800.9,1273.2 1794.6,1192.5 1788.3,1231.1 1783.3,1468.1"/>
<polygon fill="#ff0000" points="1776.3,1705.0 1776.3,1457.5 1782.3,1457.5 1782.3,1201.2 1788.3,1201.2 1788.3,1164.4 1794.6,1164.4 1794.6,1188.2 1800.9,1188.2 1800.9,1275.7 1806.9,1275.7 1806.9,1413.6 1812.8,1413.6 1812.8,1462.8 1819.2,1462.8 1819.2,1438.2 1825.5,1438.2 1826.2,1396.1 1830.4,1343.4 1836.7,1325.9 1843.7,1322.4 1845.5,1332.9 1850.7,1361.0 1851.5,1396.1 1854.3,1431.2 1857.1,1469.8 1863.0,1469.8 1863.0,1519.0 1869.0,1519.0 1869.0,1555.8 1893.6,1555.8 1900.6,1568.1 1900.6,1582.2 1906.2,1582.2 1912.2,1606.7 1912.2,1620.8 1919.2,1620.8 1919.2,1643.6 1925.2,1643.6 1925.2,1648.9 1943.8,1648.9 1943.8,1657.6 1956.1,1657.6 1956.1,1662.9 1962.4,1662.9 1962.4,1675.2 1975.4,1675.2 1975.4,1681.2 2005.9,1681.2 2005.9,1687.5 2024.5,1687.5 2024.5,1693.8 2112.3,1693.8 2112.3,1699.8 2112.3,1700.8 2020.0,1700.8 2020.0,1694.5 1980.6,1694.5 1980.6,1692.7 1975.4,1687.5 1956.1,1687.5 1956.1,1681.2 1950.8,1676.9 1937.8,1673.4 1932.2,1668.2 1920.3,1668.2 1920.3,1661.1 1913.2,1661.1 1913.2,1648.9 1906.9,1648.9 1906.9,1631.3 1900.6,1631.3 1900.6,1612.0 1894.6,1612.0 1894.6,1599.7 1881.6,1599.7 1881.6,1592.7 1870.1,1592.7 1863.0,1580.4 1863.0,1568.1 1857.1,1557.6 1857.1,1482.1 1851.5,1482.1 1851.5,1431.2 1845.5,1427.7 1840.2,1382.0 1836.7,1378.5 1831.4,1403.1 1830.4,1443.5 1825.5,1443.5 1825.5,1519.0 1819.2,1519.0 1819.2,1536.5 1807.9,1536.5 1807.9,1443.5 1800.9,1443.5 1800.9,1336.4 1794.6,1336.4 1794.6,1227.6 1788.3,1227.6 1788.3,1462.8 1782.3,1462.8 1782.3,1705.0"/>
<g style="mix-blend-mode:multiply"><g fill="#fad28c" transform="translate(-5,0)"><text x="1614.9" y="1206.2" style='font-family:"Liberation Sans",sans-serif;font-size:81.92px' textLength="146.9" lengthAdjust="spacingAndGlyphs">0.02</text></g><g fill="#8ce6ff" transform="translate(5,0)"><text x="1614.9" y="1206.2" style='font-family:"Liberation Sans",sans-serif;font-size:81.92px' textLength="146.9" lengthAdjust="spacingAndGlyphs">0.02</text></g></g><g fill="#180c28" filter="url(#er)"><text x="1614.9" y="1206.2" style='font-family:"Liberation Sans",sans-serif;font-size:81.92px' textLength="146.9" lengthAdjust="spacingAndGlyphs">0.02</text></g>
<g style="mix-blend-mode:multiply"><g fill="#fad28c" transform="translate(-5,0)"><text x="1614.9" y="1462.8" style='font-family:"Liberation Sans",sans-serif;font-size:79.10px' textLength="143.3" lengthAdjust="spacingAndGlyphs">0.01</text></g><g fill="#8ce6ff" transform="translate(5,0)"><text x="1614.9" y="1462.8" style='font-family:"Liberation Sans",sans-serif;font-size:79.10px' textLength="143.3" lengthAdjust="spacingAndGlyphs">0.01</text></g></g><g fill="#180c28" filter="url(#er)"><text x="1614.9" y="1462.8" style='font-family:"Liberation Sans",sans-serif;font-size:79.10px' textLength="143.3" lengthAdjust="spacingAndGlyphs">0.01</text></g>
<g style="mix-blend-mode:multiply"><g fill="#fad28c" transform="translate(-5,0)"><text x="1721.5" y="1714.0" style='font-family:"Liberation Sans",sans-serif;font-size:63.56px' textLength="35.6" lengthAdjust="spacingAndGlyphs">0</text></g><g fill="#8ce6ff" transform="translate(5,0)"><text x="1721.5" y="1714.0" style='font-family:"Liberation Sans",sans-serif;font-size:63.56px' textLength="35.6" lengthAdjust="spacingAndGlyphs">0</text></g></g><g fill="#180c28" filter="url(#er)"><text x="1721.5" y="1714.0" style='font-family:"Liberation Sans",sans-serif;font-size:63.56px' textLength="35.6" lengthAdjust="spacingAndGlyphs">0</text></g>
<g style="mix-blend-mode:multiply"><g fill="#fad28c" transform="translate(-5,0)"><text x="1759.8" y="1787.9" style='font-family:"Liberation Sans",sans-serif;font-size:81.50px' textLength="39.7" lengthAdjust="spacingAndGlyphs">0</text></g><g fill="#8ce6ff" transform="translate(5,0)"><text x="1759.8" y="1787.9" style='font-family:"Liberation Sans",sans-serif;font-size:81.50px' textLength="39.7" lengthAdjust="spacingAndGlyphs">0</text></g></g><g fill="#180c28" filter="url(#er)"><text x="1759.8" y="1787.9" style='font-family:"Liberation Sans",sans-serif;font-size:81.50px' textLength="39.7" lengthAdjust="spacingAndGlyphs">0</text></g>
<g style="mix-blend-mode:multiply"><g fill="#fad28c" transform="translate(-5,0)"><text x="1952.4" y="1787.9" style='font-family:"Liberation Sans",sans-serif;font-size:82.69px' textLength="42.8" lengthAdjust="spacingAndGlyphs">5</text></g><g fill="#8ce6ff" transform="translate(5,0)"><text x="1952.4" y="1787.9" style='font-family:"Liberation Sans",sans-serif;font-size:82.69px' textLength="42.8" lengthAdjust="spacingAndGlyphs">5</text></g></g><g fill="#180c28" filter="url(#er)"><text x="1952.4" y="1787.9" style='font-family:"Liberation Sans",sans-serif;font-size:82.69px' textLength="42.8" lengthAdjust="spacingAndGlyphs">5</text></g>
<g style="mix-blend-mode:multiply"><g fill="#fad28c" transform="translate(-5,0)"><text x="2116.6" y="1787.9" style='font-family:"Liberation Sans",sans-serif;font-size:81.50px' textLength="79.2" lengthAdjust="spacingAndGlyphs">10</text></g><g fill="#8ce6ff" transform="translate(5,0)"><text x="2116.6" y="1787.9" style='font-family:"Liberation Sans",sans-serif;font-size:81.50px' textLength="79.2" lengthAdjust="spacingAndGlyphs">10</text></g></g><g fill="#180c28" filter="url(#er)"><text x="2116.6" y="1787.9" style='font-family:"Liberation Sans",sans-serif;font-size:81.50px' textLength="79.2" lengthAdjust="spacingAndGlyphs">10</text></g>
<g style="mix-blend-mode:multiply"><g fill="#fad28c" transform="translate(-5,0)"><text x="2311.4" y="1787.9" style='font-family:"Liberation Sans",sans-serif;font-size:82.69px' textLength="81.7" lengthAdjust="spacingAndGlyphs">15</text></g><g fill="#8ce6ff" transform="translate(5,0)"><text x="2311.4" y="1787.9" style='font-family:"Liberation Sans",sans-serif;font-size:82.69px' textLength="81.7" lengthAdjust="spacingAndGlyphs">15</text></g></g><g fill="#180c28" filter="url(#er)"><text x="2311.4" y="1787.9" style='font-family:"Liberation Sans",sans-serif;font-size:82.69px' textLength="81.7" lengthAdjust="spacingAndGlyphs">15</text></g>
<g style="mix-blend-mode:multiply"><g fill="#fad28c" transform="translate(-5,0)"><text x="1893.3" y="1872.3" style='font-family:"Liberation Sans",sans-serif;font-size:75.63px' textLength="328.6" lengthAdjust="spacingAndGlyphs">Time (ps)</text></g><g fill="#8ce6ff" transform="translate(5,0)"><text x="1893.3" y="1872.3" style='font-family:"Liberation Sans",sans-serif;font-size:75.63px' textLength="328.6" lengthAdjust="spacingAndGlyphs">Time (ps)</text></g></g><g fill="#180c28" filter="url(#er)"><text x="1893.3" y="1872.3" style='font-family:"Liberation Sans",sans-serif;font-size:75.63px' textLength="328.6" lengthAdjust="spacingAndGlyphs">Time (ps)</text></g>
<rect x="2075.5" y="1519.0" width="100.0" height="6.3" fill="#0000ff"/>
<rect x="2075.5" y="1619.0" width="100.0" height="6.3" fill="#ff0000"/>
<text x="2199.7" y="1541.8" style='font-family:"Liberation Serif",serif;font-style:italic;font-size:87.20px' textLength="47.1" lengthAdjust="spacingAndGlyphs" fill="#000">λ</text>
<text x="2237.6" y="1563.0" style='font-family:"Liberation Serif",serif;font-size:45.31px' textLength="27.4" lengthAdjust="spacingAndGlyphs" fill="#000">2</text>
<text x="2199.7" y="1647.0" style='font-family:"Liberation Serif",serif;font-style:italic;font-size:87.06px' textLength="47.1" lengthAdjust="spacingAndGlyphs" fill="#000">λ</text>
<text x="2235.6" y="1667.6" style='font-family:"Liberation Serif",serif;font-size:44.06px' textLength="25.4" lengthAdjust="spacingAndGlyphs" fill="#000">3</text>
<text x="1890.1" y="1410.1" style='font-family:"Liberation Serif",serif;font-size:79.83px' textLength="245.0" lengthAdjust="spacingAndGlyphs" fill="#000">μ=0.1m</text>
<text x="2132.5" y="1383.5" style='font-family:"Liberation Serif",serif;font-size:47.91px' textLength="28.4" lengthAdjust="spacingAndGlyphs" fill="#000">2</text>
<text x="2160.4" y="1409.7" style='font-family:"Liberation Serif",serif;font-size:75.94px' textLength="167.5" lengthAdjust="spacingAndGlyphs" fill="#000">/(V·s)</text>
<text x="2067.9" y="1986.9" style='font-family:"Liberation Serif",serif;font-size:85.06px' textLength="93.2" lengthAdjust="spacingAndGlyphs" fill="#000">(<tspan style='font-family:"Liberation Serif",serif;font-weight:bold'>f</tspan>)</text>
</g>
<g id="pg">
<rect x="254.0" y="2065.0" width="582.0" height="652.0" fill="none" stroke="#000" stroke-width="6"/>
<rect x="251.0" y="2056.0" width="6" height="8"/>
<rect x="833.0" y="2056.0" width="6" height="8"/>
<rect x="540.0" y="2068.0" width="6" height="7"/>
<rect x="540.0" y="2707.0" width="6" height="7"/>
<rect x="257.0" y="2150.0" width="7" height="6"/>
<rect x="826.0" y="2150.0" width="7" height="6"/>
<rect x="257.0" y="2337.5" width="7" height="6"/>
<rect x="826.0" y="2337.5" width="7" height="6"/>
<rect x="257.0" y="2525.7" width="7" height="6"/>
<rect x="826.0" y="2525.7" width="7" height="6"/>
<polygon fill="#0000ff" points="268.8,2517.5 275.1,2514.0 276.9,2363.0 282.1,2363.0 282.1,2382.3 288.4,2382.3 288.4,2426.2 294.4,2426.2 294.4,2457.8 300.4,2457.8 300.0,2500.9 307.5,2500.9 307.5,2507.4 313.5,2507.4 313.5,2538.3 319.7,2538.3 319.7,2544.9 325.8,2544.9 325.8,2557.0 332.2,2557.0 332.2,2575.8 338.4,2575.8 338.4,2582.3 344.9,2582.3 344.9,2588.9 350.9,2588.9 350.9,2594.5 357.1,2594.5 357.1,2601.0 363.7,2601.0 363.7,2606.6 369.7,2606.6 369.7,2606.6 375.8,2606.6 375.8,2606.6 388.0,2606.6 388.0,2613.2 394.6,2613.2 394.6,2613.2 401.1,2613.2 401.1,2606.6 407.1,2606.6 407.1,2618.8 413.3,2618.8 413.3,2613.2 419.8,2613.2 419.8,2619.8 432.0,2619.8 432.0,2619.8 438.6,2619.8 438.6,2631.9 445.1,2631.9 445.1,2626.3 450.7,2626.3 450.7,2638.5 462.9,2638.5 462.9,2638.5 469.5,2638.5 469.5,2650.6 476.0,2650.6 476.0,2645.0 482.0,2645.0 482.0,2657.2 500.4,2657.2 500.4,2663.8 513.5,2663.8 513.5,2663.8 525.6,2663.8 525.6,2663.8 532.2,2663.8 532.2,2669.4 544.4,2669.4 544.4,2669.4 550.9,2669.4 550.9,2669.4 556.9,2669.4 556.9,2669.4 563.1,2669.4 563.1,2675.9 576.2,2675.9 576.2,2669.4 581.8,2669.4 581.8,2675.9 594.9,2675.9 594.9,2675.9 600.5,2675.9 600.5,2675.9 613.6,2675.9 613.6,2675.9 620.0,2675.9 619.0,2676.2 626.0,2676.2 626.0,2682.5 632.0,2682.5 632.0,2676.2 638.2,2676.2 638.2,2682.5 656.9,2682.5 656.9,2688.2 663.2,2688.2 663.2,2682.5 669.5,2682.5 669.5,2688.2 682.2,2688.2 682.2,2682.5 688.5,2682.5 688.5,2688.2 719.4,2688.2 719.4,2688.2 725.7,2688.2 725.7,2688.2 732.0,2688.2 732.0,2694.5 738.3,2694.5 738.3,2688.2 744.6,2688.2 744.6,2694.5 756.6,2694.5 756.6,2688.2 762.9,2688.2 762.9,2694.5 838.7,2694.5 838.7,2700.8 762.9,2700.8 762.9,2700.8 756.6,2700.8 756.6,2700.8 744.6,2700.8 744.6,2694.5 738.3,2694.5 738.3,2700.8 732.0,2700.8 732.0,2694.5 725.7,2694.5 725.7,2700.8 719.4,2700.8 719.4,2694.5 688.5,2694.5 688.5,2694.5 682.2,2694.5 682.2,2694.5 669.5,2694.5 669.5,2688.2 663.2,2688.2 663.2,2694.5 656.9,2694.5 656.9,2688.2 638.2,2688.2 638.2,2682.5 632.0,2682.5 632.0,2688.2 626.0,2688.2 626.0,2682.5 619.0,2682.5 620.0,2688.1 613.6,2688.1 613.6,2681.5 600.5,2681.5 600.5,2688.1 594.9,2688.1 594.9,2681.5 581.8,2681.5 581.8,2688.1 576.2,2688.1 576.2,2681.5 563.1,2681.5 563.1,2675.9 556.9,2675.9 556.9,2681.5 550.9,2681.5 550.9,2675.9 544.4,2675.9 544.4,2681.5 532.2,2681.5 532.2,2669.4 525.6,2669.4 525.6,2675.0 513.5,2675.0 513.5,2669.4 500.4,2669.4 500.4,2669.4 482.0,2669.4 482.0,2662.8 476.0,2662.8 476.0,2662.8 469.5,2662.8 469.5,2650.6 462.9,2650.6 462.9,2656.3 450.7,2656.3 450.7,2649.7 445.1,2649.7 445.1,2649.7 438.6,2649.7 438.6,2637.5 432.0,2637.5 432.0,2644.1 419.8,2644.1 419.8,2637.5 413.3,2637.5 413.3,2637.5 407.1,2637.5 407.1,2625.4 401.1,2625.4 401.1,2637.5 394.6,2637.5 394.6,2625.4 388.0,2625.4 388.0,2631.9 375.8,2631.9 375.8,2613.2 369.7,2613.2 369.7,2625.4 363.7,2625.4 363.7,2613.2 357.1,2613.2 357.1,2619.8 350.9,2619.8 350.9,2606.6 344.9,2606.6 344.9,2600.1 338.4,2600.1 338.4,2600.1 332.2,2600.1 332.2,2575.8 325.8,2575.8 325.8,2587.9 319.7,2587.9 319.7,2569.2 313.5,2569.2 313.5,2562.6 307.5,2562.6 307.5,2537.4 300.0,2537.4 300.4,2536.8 294.4,2506.9 289.2,2506.9 288.4,2454.3 282.1,2456.0 276.9,2450.8 275.1,2521.0 269.8,2521.0"/>
<polygon fill="#ff0000" points="251.2,2719.3 251.2,2714.1 263.9,2714.1 263.9,2514.0 269.8,2514.0 269.8,2132.0 276.9,2132.0 276.9,2126.0 282.1,2126.0 282.1,2282.2 288.4,2282.2 288.4,2363.0 294.4,2363.0 294.4,2382.3 300.4,2382.3 300.0,2444.7 307.5,2444.7 307.5,2469.0 313.5,2469.0 313.5,2500.9 319.7,2500.9 319.7,2531.7 325.8,2531.7 325.8,2538.3 332.2,2538.3 332.2,2550.5 338.4,2550.5 338.4,2569.2 344.9,2569.2 344.9,2575.8 350.9,2575.8 350.9,2582.3 357.1,2582.3 357.1,2575.8 369.7,2575.8 369.7,2582.3 375.8,2582.3 375.8,2569.2 382.4,2569.2 382.4,2557.0 388.0,2557.0 388.0,2563.6 394.6,2563.6 394.6,2531.7 401.1,2531.7 401.1,2513.0 407.1,2513.0 407.1,2506.5 413.3,2506.5 413.3,2487.7 419.8,2487.7 419.8,2487.7 425.8,2487.7 425.8,2469.0 432.0,2469.0 432.0,2475.6 438.6,2475.6 438.6,2500.9 444.6,2500.9 444.6,2487.7 450.7,2487.7 450.7,2513.0 457.3,2513.0 457.3,2525.2 462.9,2525.2 462.9,2529.9 469.5,2529.9 469.5,2541.1 476.0,2541.1 476.0,2552.3 481.6,2552.3 481.6,2559.8 487.2,2559.8 487.2,2567.3 494.7,2567.3 494.7,2574.8 500.4,2574.8 500.4,2582.3 506.0,2582.3 506.0,2587.9 513.5,2587.9 513.5,2594.5 519.1,2594.5 519.1,2597.3 525.6,2597.3 525.6,2602.9 532.2,2602.9 532.2,2614.1 544.4,2614.1 544.4,2610.4 550.9,2610.4 550.9,2619.8 556.9,2619.8 556.9,2619.8 563.1,2619.8 563.1,2619.8 569.6,2619.8 569.6,2625.4 575.2,2625.4 575.2,2619.8 581.8,2619.8 581.8,2619.8 588.4,2619.8 588.4,2625.4 594.9,2625.4 594.9,2619.8 601.5,2619.8 601.5,2619.8 607.1,2619.8 607.1,2610.4 620.0,2610.4 619.7,2619.3 626.0,2619.3 626.0,2613.7 632.3,2613.7 632.3,2613.7 637.9,2613.7 637.9,2624.3 644.9,2624.3 644.9,2615.8 650.6,2615.8 650.6,2620.0 656.9,2620.0 656.9,2626.4 669.5,2626.4 669.5,2626.4 675.8,2626.4 675.8,2626.4 682.2,2626.4 682.2,2632.0 688.5,2632.0 688.5,2638.3 694.8,2638.3 694.8,2644.6 701.1,2644.6 701.1,2638.3 707.4,2638.3 707.4,2644.6 713.0,2644.6 713.0,2650.9 719.4,2650.9 719.4,2650.9 725.7,2650.9 725.7,2650.9 732.0,2650.9 732.0,2657.3 744.6,2657.3 744.6,2657.3 751.0,2657.3 751.0,2650.9 756.6,2650.9 756.6,2657.3 769.9,2657.3 769.9,2657.3 776.2,2657.3 776.2,2657.3 782.6,2657.3 782.6,2657.3 788.2,2657.3 788.2,2663.6 794.5,2663.6 794.5,2657.3 800.8,2657.3 800.8,2657.3 813.5,2657.3 813.5,2657.3 819.8,2657.3 819.8,2663.6 826.1,2663.6 826.1,2657.3 831.7,2657.3 831.7,2663.6 838.0,2663.6 838.0,2669.9 831.7,2669.9 831.7,2676.2 826.1,2676.2 826.1,2676.2 819.8,2676.2 819.8,2663.6 813.5,2663.6 813.5,2676.2 800.8,2676.2 800.8,2669.9 794.5,2669.9 794.5,2676.2 788.2,2676.2 788.2,2669.9 782.6,2669.9 782.6,2663.6 776.2,2663.6 776.2,2669.9 769.9,2669.9 769.9,2663.6 756.6,2663.6 756.6,2669.9 751.0,2669.9 751.0,2669.9 744.6,2669.9 744.6,2663.6 732.0,2663.6 732.0,2663.6 725.7,2663.6 725.7,2657.3 719.4,2657.3 719.4,2663.6 713.0,2663.6 713.0,2650.9 707.4,2650.9 707.4,2657.3 701.1,2657.3 701.1,2657.3 694.8,2657.3 694.8,2644.6 688.5,2644.6 688.5,2650.9 682.2,2650.9 682.2,2650.9 675.8,2650.9 675.8,2638.3 669.5,2638.3 669.5,2644.6 656.9,2644.6 656.9,2638.3 650.6,2638.3 650.6,2644.6 644.9,2644.6 644.9,2638.3 637.9,2638.3 637.9,2632.0 632.3,2632.0 632.3,2638.3 626.0,2638.3 626.0,2638.3 619.7,2638.3 620.0,2637.5 607.1,2637.5 607.1,2644.1 601.5,2644.1 601.5,2637.5 594.9,2637.5 594.9,2637.5 588.4,2637.5 588.4,2644.1 581.8,2644.1 581.8,2637.5 575.2,2637.5 575.2,2644.1 569.6,2644.1 569.6,2637.5 563.1,2637.5 563.1,2631.9 556.9,2631.9 556.9,2637.5 550.9,2637.5 550.9,2631.9 544.4,2631.9 544.4,2625.4 532.2,2625.4 532.2,2625.4 525.6,2625.4 525.6,2619.8 519.1,2619.8 519.1,2618.8 513.5,2618.8 513.5,2614.1 506.0,2614.1 506.0,2609.5 500.4,2609.5 500.4,2604.8 494.7,2604.8 494.7,2601.0 487.2,2601.0 487.2,2593.5 481.6,2593.5 481.6,2587.9 476.0,2587.9 476.0,2586.1 469.5,2586.1 469.5,2571.1 462.9,2571.1 462.9,2569.2 457.3,2569.2 457.3,2550.5 450.7,2550.5 450.7,2557.0 444.6,2557.0 444.6,2550.5 438.6,2550.5 438.6,2544.9 432.0,2544.9 432.0,2550.5 425.8,2550.5 425.8,2557.0 419.8,2557.0 419.8,2563.6 413.3,2563.6 413.3,2569.2 407.1,2569.2 407.1,2587.9 401.1,2587.9 401.1,2587.9 394.6,2587.9 394.6,2601.0 388.0,2601.0 388.0,2606.6 382.4,2606.6 382.4,2601.0 375.8,2601.0 375.8,2606.6 369.7,2606.6 369.7,2606.6 357.1,2606.6 357.1,2594.5 350.9,2594.5 350.9,2582.3 344.9,2582.3 344.9,2582.3 338.4,2582.3 338.4,2569.2 332.2,2569.2 332.2,2557.0 325.8,2557.0 325.8,2538.3 319.7,2538.3 319.7,2531.7 313.5,2531.7 313.5,2531.7 307.5,2531.7 307.5,2469.0 300.0,2469.0 296.2,2445.5 292.7,2366.5 288.4,2363.0 282.1,2363.0 275.1,2514.0 268.8,2517.5 268.8,2719.3"/>
<g style="mix-blend-mode:multiply"><g fill="#fad28c" transform="translate(-5,0)"><text x="113.7" y="2180.5" style='font-family:"Liberation Sans",sans-serif;font-size:89.55px' textLength="111.9" lengthAdjust="spacingAndGlyphs">0.3</text></g><g fill="#8ce6ff" transform="translate(5,0)"><text x="113.7" y="2180.5" style='font-family:"Liberation Sans",sans-serif;font-size:89.55px' textLength="111.9" lengthAdjust="spacingAndGlyphs">0.3</text></g></g><g fill="#180c28" filter="url(#er)"><text x="113.7" y="2180.5" style='font-family:"Liberation Sans",sans-serif;font-size:89.55px' textLength="111.9" lengthAdjust="spacingAndGlyphs">0.3</text></g>
<g style="mix-blend-mode:multiply"><g fill="#fad28c" transform="translate(-5,0)"><text x="113.6" y="2367.9" style='font-family:"Liberation Sans",sans-serif;font-size:87.99px' textLength="112.4" lengthAdjust="spacingAndGlyphs">0.2</text></g><g fill="#8ce6ff" transform="translate(5,0)"><text x="113.6" y="2367.9" style='font-family:"Liberation Sans",sans-serif;font-size:87.99px' textLength="112.4" lengthAdjust="spacingAndGlyphs">0.2</text></g></g><g fill="#180c28" filter="url(#er)"><text x="113.6" y="2367.9" style='font-family:"Liberation Sans",sans-serif;font-size:87.99px' textLength="112.4" lengthAdjust="spacingAndGlyphs">0.2</text></g>
<g style="mix-blend-mode:multiply"><g fill="#fad28c" transform="translate(-5,0)"><text x="113.6" y="2555.1" style='font-family:"Liberation Sans",sans-serif;font-size:87.57px' textLength="112.3" lengthAdjust="spacingAndGlyphs">0.1</text></g><g fill="#8ce6ff" transform="translate(5,0)"><text x="113.6" y="2555.1" style='font-family:"Liberation Sans",sans-serif;font-size:87.57px' textLength="112.3" lengthAdjust="spacingAndGlyphs">0.1</text></g></g><g fill="#180c28" filter="url(#er)"><text x="113.6" y="2555.1" style='font-family:"Liberation Sans",sans-serif;font-size:87.57px' textLength="112.3" lengthAdjust="spacingAndGlyphs">0.1</text></g>
<g style="mix-blend-mode:multiply"><g fill="#fad28c" transform="translate(-5,0)"><text x="184.1" y="2742.7" style='font-family:"Liberation Sans",sans-serif;font-size:89.12px' textLength="40.7" lengthAdjust="spacingAndGlyphs">0</text></g><g fill="#8ce6ff" transform="translate(5,0)"><text x="184.1" y="2742.7" style='font-family:"Liberation Sans",sans-serif;font-size:89.12px' textLength="40.7" lengthAdjust="spacingAndGlyphs">0</text></g></g><g fill="#180c28" filter="url(#er)"><text x="184.1" y="2742.7" style='font-family:"Liberation Sans",sans-serif;font-size:89.12px' textLength="40.7" lengthAdjust="spacingAndGlyphs">0</text></g>
<g style="mix-blend-mode:multiply"><g fill="#fad28c" transform="translate(-5,0)"><text x="235.5" y="2804.0" style='font-family:"Liberation Sans",sans-serif;font-size:85.03px' textLength="36.1" lengthAdjust="spacingAndGlyphs">0</text></g><g fill="#8ce6ff" transform="translate(5,0)"><text x="235.5" y="2804.0" style='font-family:"Liberation Sans",sans-serif;font-size:85.03px' textLength="36.1" lengthAdjust="spacingAndGlyphs">0</text></g></g><g fill="#180c28" filter="url(#er)"><text x="235.5" y="2804.0" style='font-family:"Liberation Sans",sans-serif;font-size:85.03px' textLength="36.1" lengthAdjust="spacingAndGlyphs">0</text></g>
<g style="mix-blend-mode:multiply"><g fill="#fad28c" transform="translate(-5,0)"><text x="482.0" y="2804.0" style='font-family:"Liberation Sans",sans-serif;font-size:85.03px' textLength="109.3" lengthAdjust="spacingAndGlyphs">2.5</text></g><g fill="#8ce6ff" transform="translate(5,0)"><text x="482.0" y="2804.0" style='font-family:"Liberation Sans",sans-serif;font-size:85.03px' textLength="109.3" lengthAdjust="spacingAndGlyphs">2.5</text></g></g><g fill="#180c28" filter="url(#er)"><text x="482.0" y="2804.0" style='font-family:"Liberation Sans",sans-serif;font-size:85.03px' textLength="109.3" lengthAdjust="spacingAndGlyphs">2.5</text></g>
<g style="mix-blend-mode:multiply"><g fill="#fad28c" transform="translate(-5,0)"><text x="816.1" y="2804.0" style='font-family:"Liberation Sans",sans-serif;font-size:86.28px' textLength="40.4" lengthAdjust="spacingAndGlyphs">5</text></g><g fill="#8ce6ff" transform="translate(5,0)"><text x="816.1" y="2804.0" style='font-family:"Liberation Sans",sans-serif;font-size:86.28px' textLength="40.4" lengthAdjust="spacingAndGlyphs">5</text></g></g><g fill="#180c28" filter="url(#er)"><text x="816.1" y="2804.0" style='font-family:"Liberation Sans",sans-serif;font-size:86.28px' textLength="40.4" lengthAdjust="spacingAndGlyphs">5</text></g>
<g style="mix-blend-mode:multiply"><g fill="#fad28c" transform="translate(-5,0)"><text x="367.3" y="2884.7" style='font-family:"Liberation Sans",sans-serif;font-size:76.06px' textLength="328.0" lengthAdjust="spacingAndGlyphs">Time (ps)</text></g><g fill="#8ce6ff" transform="translate(5,0)"><text x="367.3" y="2884.7" style='font-family:"Liberation Sans",sans-serif;font-size:76.06px' textLength="328.0" lengthAdjust="spacingAndGlyphs">Time (ps)</text></g></g><g fill="#180c28" filter="url(#er)"><text x="367.3" y="2884.7" style='font-family:"Liberation Sans",sans-serif;font-size:76.06px' textLength="328.0" lengthAdjust="spacingAndGlyphs">Time (ps)</text></g>
<g style="mix-blend-mode:multiply"><g fill="#fad28c" transform="translate(-5,0)"><g transform="rotate(-90)"><text x="-2606.9" y="92.8" style='font-family:"Liberation Sans",sans-serif;font-size:77.03px' textLength="417.2" lengthAdjust="spacingAndGlyphs">Lifetime (ps)</text></g></g><g fill="#8ce6ff" transform="translate(5,0)"><g transform="rotate(-90)"><text x="-2606.9" y="92.8" style='font-family:"Liberation Sans",sans-serif;font-size:77.03px' textLength="417.2" lengthAdjust="spacingAndGlyphs">Lifetime (ps)</text></g></g></g><g fill="#180c28" filter="url(#er)"><g transform="rotate(-90)"><text x="-2606.9" y="92.8" style='font-family:"Liberation Sans",sans-serif;font-size:77.03px' textLength="417.2" lengthAdjust="spacingAndGlyphs">Lifetime (ps)</text></g></g>
<rect x="563.0" y="2200.2" width="100.0" height="6.3" fill="#0000ff"/>
<rect x="563.0" y="2300.2" width="100.0" height="6.3" fill="#ff0000"/>
<text x="672.6" y="2229.6" style='font-family:"Liberation Serif",serif;font-style:italic;font-size:87.49px' textLength="46.1" lengthAdjust="spacingAndGlyphs" fill="#000">λ</text>
<text x="710.7" y="2249.0" style='font-family:"Liberation Serif",serif;font-size:45.31px' textLength="26.2" lengthAdjust="spacingAndGlyphs" fill="#000">2</text>
<text x="672.6" y="2329.7" style='font-family:"Liberation Serif",serif;font-style:italic;font-size:87.63px' textLength="46.1" lengthAdjust="spacingAndGlyphs" fill="#000">λ</text>
<text x="708.6" y="2348.5" style='font-family:"Liberation Serif",serif;font-size:47.03px' textLength="25.4" lengthAdjust="spacingAndGlyphs" fill="#000">3</text>
<text x="526.8" y="2573.7" style='font-family:"Liberation Serif",serif;font-style:italic;font-size:78.96px' textLength="41.2" lengthAdjust="spacingAndGlyphs" fill="#000">E</text>
<text x="561.6" y="2575.7" style='font-family:"Liberation Serif",serif;font-style:italic;font-size:50.45px' textLength="19.7" lengthAdjust="spacingAndGlyphs" fill="#000">f</text>
<text x="580.2" y="2573.6" style='font-family:"Liberation Serif",serif;font-size:77.64px' textLength="226.0" lengthAdjust="spacingAndGlyphs" fill="#000">=0.4eV</text>
<text x="357.4" y="3015.4" style='font-family:"Liberation Serif",serif;font-size:89.01px' textLength="105.6" lengthAdjust="spacingAndGlyphs" fill="#000">(<tspan style='font-family:"Liberation Serif",serif;font-weight:bold'>g</tspan>)</text>
</g>
<g id="ph">
<rect x="1016.0" y="2066.0" width="575.0" height="650.0" fill="none" stroke="#000" stroke-width="6"/>
<rect x="1301.0" y="2069.0" width="6" height="7"/>
<rect x="1301.0" y="2706.0" width="6" height="7"/>
<rect x="1019.0" y="2276.0" width="7" height="6"/>
<rect x="1581.0" y="2276.0" width="7" height="6"/>
<rect x="1019.0" y="2494.7" width="7" height="6"/>
<rect x="1581.0" y="2494.7" width="7" height="6"/>
<polygon fill="#0000ff" points="1025.3,2671.9 1026.3,2657.9 1031.6,2657.9 1031.6,2633.3 1037.9,2633.3 1037.9,2643.9 1043.9,2643.9 1043.9,2650.9 1050.9,2650.9 1056.9,2645.6 1063.2,2650.9 1069.5,2652.6 1075.5,2657.9 1082.5,2652.6 1088.5,2657.9 1094.8,2663.2 1101.1,2669.1 1107.1,2675.5 1113.0,2675.5 1119.4,2681.8 1125.7,2687.7 1143.9,2687.7 1150.3,2693.7 1163.3,2693.7 1168.5,2700.7 1312.5,2700.7 1312.5,2706.4 1594.0,2706.4 1594.0,2713.4 1305.4,2713.4 1305.4,2707.1 1163.3,2707.1 1163.3,2700.0 1143.9,2700.0 1143.9,2693.7 1119.4,2693.7 1119.4,2687.7 1107.1,2681.8 1101.1,2675.5 1094.8,2670.2 1087.8,2668.4 1075.5,2668.4 1069.5,2663.2 1063.2,2657.9 1056.9,2663.2 1050.9,2663.2 1043.9,2657.9 1037.9,2650.9 1031.6,2671.9 1025.3,2671.9"/>
<polygon fill="#ff0000" points="1013.3,2719.3 1013.3,2713.4 1019.3,2713.4 1019.3,2657.9 1026.3,2657.9 1026.3,2594.7 1031.6,2594.7 1031.6,2601.7 1037.9,2601.7 1037.9,2607.0 1043.9,2607.0 1043.9,2614.0 1056.9,2614.0 1056.9,2607.7 1069.5,2607.7 1069.5,2601.7 1075.5,2601.7 1075.5,2582.4 1082.5,2582.4 1082.5,2575.4 1088.5,2575.4 1088.5,2550.8 1094.8,2550.8 1094.8,2475.3 1101.1,2475.3 1101.1,2338.4 1107.1,2338.4 1107.1,2156.6 1113.0,2156.6 1113.0,2106.7 1125.7,2106.7 1125.7,2387.6 1131.7,2387.6 1131.7,2543.8 1137.6,2543.8 1137.6,2594.7 1143.9,2594.7 1143.9,2619.3 1150.3,2619.3 1150.3,2643.9 1156.2,2643.9 1156.2,2663.2 1163.3,2663.2 1163.3,2675.5 1182.6,2675.5 1182.6,2681.8 1200.1,2681.8 1200.1,2675.5 1238.7,2675.5 1238.7,2670.2 1256.3,2670.2 1256.3,2675.5 1269.6,2675.5 1269.6,2670.2 1287.2,2670.2 1287.2,2681.8 1305.4,2681.8 1305.4,2687.7 1324.8,2687.7 1324.8,2694.8 1481.0,2694.8 1481.0,2700.0 1594.0,2700.0 1594.0,2706.4 1475.7,2706.4 1475.7,2701.1 1319.5,2701.1 1319.5,2694.1 1300.2,2694.1 1300.2,2688.1 1280.9,2688.1 1280.9,2681.8 1207.1,2681.8 1207.1,2688.1 1182.6,2688.1 1182.6,2681.8 1163.3,2681.8 1163.3,2675.5 1156.2,2675.5 1156.2,2663.2 1150.3,2663.2 1150.3,2643.9 1143.9,2643.9 1143.9,2619.3 1137.6,2619.3 1137.6,2594.7 1131.7,2594.7 1131.7,2575.4 1125.7,2575.4 1125.7,2468.3 1119.4,2468.3 1119.4,2345.4 1113.0,2345.4 1113.0,2419.2 1107.1,2419.2 1107.1,2519.2 1101.1,2519.2 1101.1,2570.1 1094.8,2570.1 1087.8,2582.4 1080.7,2594.7 1075.5,2619.3 1069.5,2619.3 1063.2,2622.8 1056.2,2624.6 1050.9,2621.0 1043.9,2624.6 1037.9,2619.3 1031.6,2619.3 1026.3,2714.1 1025.3,2719.3"/>
<g style="mix-blend-mode:multiply"><g fill="#fad28c" transform="translate(-5,0)"><text x="879.9" y="2093.4" style='font-family:"Liberation Sans",sans-serif;font-size:89.72px' textLength="106.3" lengthAdjust="spacingAndGlyphs">1.5</text></g><g fill="#8ce6ff" transform="translate(5,0)"><text x="879.9" y="2093.4" style='font-family:"Liberation Sans",sans-serif;font-size:89.72px' textLength="106.3" lengthAdjust="spacingAndGlyphs">1.5</text></g></g><g fill="#180c28" filter="url(#er)"><text x="879.9" y="2093.4" style='font-family:"Liberation Sans",sans-serif;font-size:89.72px' textLength="106.3" lengthAdjust="spacingAndGlyphs">1.5</text></g>
<g style="mix-blend-mode:multiply"><g fill="#fad28c" transform="translate(-5,0)"><text x="950.5" y="2307.0" style='font-family:"Liberation Sans",sans-serif;font-size:90.70px' textLength="30.2" lengthAdjust="spacingAndGlyphs">1</text></g><g fill="#8ce6ff" transform="translate(5,0)"><text x="950.5" y="2307.0" style='font-family:"Liberation Sans",sans-serif;font-size:90.70px' textLength="30.2" lengthAdjust="spacingAndGlyphs">1</text></g></g><g fill="#180c28" filter="url(#er)"><text x="950.5" y="2307.0" style='font-family:"Liberation Sans",sans-serif;font-size:90.70px' textLength="30.2" lengthAdjust="spacingAndGlyphs">1</text></g>
<g style="mix-blend-mode:multiply"><g fill="#fad28c" transform="translate(-5,0)"><text x="880.7" y="2524.1" style='font-family:"Liberation Sans",sans-serif;font-size:88.28px' textLength="106.5" lengthAdjust="spacingAndGlyphs">0.5</text></g><g fill="#8ce6ff" transform="translate(5,0)"><text x="880.7" y="2524.1" style='font-family:"Liberation Sans",sans-serif;font-size:88.28px' textLength="106.5" lengthAdjust="spacingAndGlyphs">0.5</text></g></g><g fill="#180c28" filter="url(#er)"><text x="880.7" y="2524.1" style='font-family:"Liberation Sans",sans-serif;font-size:88.28px' textLength="106.5" lengthAdjust="spacingAndGlyphs">0.5</text></g>
<g style="mix-blend-mode:multiply"><g fill="#fad28c" transform="translate(-5,0)"><text x="945.6" y="2743.1" style='font-family:"Liberation Sans",sans-serif;font-size:88.13px' textLength="40.3" lengthAdjust="spacingAndGlyphs">0</text></g><g fill="#8ce6ff" transform="translate(5,0)"><text x="945.6" y="2743.1" style='font-family:"Liberation Sans",sans-serif;font-size:88.13px' textLength="40.3" lengthAdjust="spacingAndGlyphs">0</text></g></g><g fill="#180c28" filter="url(#er)"><text x="945.6" y="2743.1" style='font-family:"Liberation Sans",sans-serif;font-size:88.13px' textLength="40.3" lengthAdjust="spacingAndGlyphs">0</text></g>
<g style="mix-blend-mode:multiply"><g fill="#fad28c" transform="translate(-5,0)"><text x="996.6" y="2799.7" style='font-family:"Liberation Sans",sans-serif;font-size:88.42px' textLength="38.0" lengthAdjust="spacingAndGlyphs">0</text></g><g fill="#8ce6ff" transform="translate(5,0)"><text x="996.6" y="2799.7" style='font-family:"Liberation Sans",sans-serif;font-size:88.42px' textLength="38.0" lengthAdjust="spacingAndGlyphs">0</text></g></g><g fill="#180c28" filter="url(#er)"><text x="996.6" y="2799.7" style='font-family:"Liberation Sans",sans-serif;font-size:88.42px' textLength="38.0" lengthAdjust="spacingAndGlyphs">0</text></g>
<g style="mix-blend-mode:multiply"><g fill="#fad28c" transform="translate(-5,0)"><text x="1242.9" y="2800.1" style='font-family:"Liberation Sans",sans-serif;font-size:87.57px' textLength="112.5" lengthAdjust="spacingAndGlyphs">2.5</text></g><g fill="#8ce6ff" transform="translate(5,0)"><text x="1242.9" y="2800.1" style='font-family:"Liberation Sans",sans-serif;font-size:87.57px' textLength="112.5" lengthAdjust="spacingAndGlyphs">2.5</text></g></g><g fill="#180c28" filter="url(#er)"><text x="1242.9" y="2800.1" style='font-family:"Liberation Sans",sans-serif;font-size:87.57px' textLength="112.5" lengthAdjust="spacingAndGlyphs">2.5</text></g>
<g style="mix-blend-mode:multiply"><g fill="#fad28c" transform="translate(-5,0)"><text x="1577.1" y="2800.1" style='font-family:"Liberation Sans",sans-serif;font-size:88.86px' textLength="40.5" lengthAdjust="spacingAndGlyphs">5</text></g><g fill="#8ce6ff" transform="translate(5,0)"><text x="1577.1" y="2800.1" style='font-family:"Liberation Sans",sans-serif;font-size:88.86px' textLength="40.5" lengthAdjust="spacingAndGlyphs">5</text></g></g><g fill="#180c28" filter="url(#er)"><text x="1577.1" y="2800.1" style='font-family:"Liberation Sans",sans-serif;font-size:88.86px' textLength="40.5" lengthAdjust="spacingAndGlyphs">5</text></g>
<g style="mix-blend-mode:multiply"><g fill="#fad28c" transform="translate(-5,0)"><text x="1127.2" y="2881.2" style='font-family:"Liberation Sans",sans-serif;font-size:76.17px' textLength="331.2" lengthAdjust="spacingAndGlyphs">Time (ps)</text></g><g fill="#8ce6ff" transform="translate(5,0)"><text x="1127.2" y="2881.2" style='font-family:"Liberation Sans",sans-serif;font-size:76.17px' textLength="331.2" lengthAdjust="spacingAndGlyphs">Time (ps)</text></g></g><g fill="#180c28" filter="url(#er)"><text x="1127.2" y="2881.2" style='font-family:"Liberation Sans",sans-serif;font-size:76.17px' textLength="331.2" lengthAdjust="spacingAndGlyphs">Time (ps)</text></g>
<rect x="1337.8" y="2206.7" width="100.4" height="6.3" fill="#0000ff"/>
<rect x="1337.8" y="2306.8" width="100.4" height="6.3" fill="#ff0000"/>
<text x="1447.6" y="2235.0" style='font-family:"Liberation Serif",serif;font-style:italic;font-size:87.49px' textLength="46.1" lengthAdjust="spacingAndGlyphs" fill="#000">λ</text>
<text x="1484.6" y="2256.0" style='font-family:"Liberation Serif",serif;font-size:48.33px' textLength="27.4" lengthAdjust="spacingAndGlyphs" fill="#000">2</text>
<text x="1447.6" y="2335.0" style='font-family:"Liberation Serif",serif;font-style:italic;font-size:87.35px' textLength="46.1" lengthAdjust="spacingAndGlyphs" fill="#000">λ</text>
<text x="1482.6" y="2355.5" style='font-family:"Liberation Serif",serif;font-size:47.03px' textLength="25.4" lengthAdjust="spacingAndGlyphs" fill="#000">3</text>
<text x="1283.4" y="2589.5" style='font-family:"Liberation Serif",serif;font-style:italic;font-size:78.65px' textLength="41.2" lengthAdjust="spacingAndGlyphs" fill="#000">E</text>
<text x="1318.2" y="2591.5" style='font-family:"Liberation Serif",serif;font-style:italic;font-size:50.26px' textLength="19.7" lengthAdjust="spacingAndGlyphs" fill="#000">f</text>
<text x="1336.8" y="2589.4" style='font-family:"Liberation Serif",serif;font-size:77.34px' textLength="225.9" lengthAdjust="spacingAndGlyphs" fill="#000">=0.6eV</text>
<text x="1232.1" y="3013.3" style='font-family:"Liberation Serif",serif;font-size:86.02px' textLength="108.8" lengthAdjust="spacingAndGlyphs" fill="#000">(<tspan style='font-family:"Liberation Serif",serif;font-weight:bold'>h</tspan>)</text>
</g>
<g id="pi">
<rect x="1779.0" y="2066.0" width="581.0" height="650.0" fill="none" stroke="#000" stroke-width="6"/>
<rect x="2063.0" y="2069.0" width="6" height="7"/>
<rect x="2063.0" y="2706.0" width="6" height="7"/>
<rect x="1782.0" y="2276.0" width="7" height="6"/>
<rect x="2350.0" y="2276.0" width="7" height="6"/>
<rect x="1782.0" y="2494.7" width="7" height="6"/>
<rect x="2350.0" y="2494.7" width="7" height="6"/>
<polygon fill="#0000ff" points="1788.3,2594.7 1794.6,2594.7 1794.6,2475.3 1800.9,2475.3 1800.9,2494.7 1806.9,2494.7 1806.9,2526.2 1812.8,2526.2 1812.8,2531.5 1819.2,2531.5 1819.2,2550.8 1825.5,2550.8 1825.5,2594.7 1831.4,2594.7 1831.4,2624.6 1837.4,2624.6 1837.4,2657.9 1843.7,2657.9 1843.7,2670.2 1850.0,2670.2 1850.0,2676.2 1856.0,2676.2 1856.0,2688.8 1869.0,2688.8 1869.0,2700.7 2005.9,2700.7 2005.9,2707.1 2300.1,2707.1 2300.1,2713.4 2000.0,2713.4 2000.0,2707.1 1869.0,2707.1 1862.0,2700.7 1856.0,2694.8 1850.0,2688.8 1843.7,2682.5 1837.4,2670.2 1831.4,2663.2 1825.5,2643.9 1819.2,2619.3 1812.8,2587.7 1806.9,2566.6 1800.9,2556.1 1794.6,2556.1 1794.6,2607.0 1788.3,2607.0"/>
<polygon fill="#ff0000" points="1776.3,2719.3 1776.3,2713.4 1782.3,2713.4 1782.3,2594.7 1788.3,2594.7 1788.3,2463.1 1794.6,2463.1 1794.6,2382.3 1800.9,2382.3 1800.9,2357.7 1806.9,2357.7 1806.9,2287.5 1812.8,2287.5 1812.8,2206.8 1819.2,2206.8 1819.2,2143.6 1825.5,2143.6 1825.5,2126.0 1831.4,2126.0 1831.4,2119.0 1837.4,2119.0 1837.4,2326.1 1843.7,2326.1 1843.7,2426.2 1850.0,2426.2 1850.0,2514.0 1856.0,2514.0 1856.0,2594.7 1862.0,2594.7 1862.0,2638.6 1869.0,2638.6 1869.0,2657.9 1875.3,2657.9 1875.3,2670.2 1881.6,2670.2 1881.6,2688.8 1913.2,2688.8 1913.2,2695.1 1875.7,2695.1 1875.7,2676.2 1869.4,2676.2 1869.4,2663.9 1863.0,2663.9 1863.0,2644.6 1856.0,2644.6 1856.0,2600.7 1850.0,2600.7 1850.0,2519.9 1844.1,2519.9 1844.1,2432.2 1837.8,2432.2 1837.8,2332.1 1831.4,2332.1 1831.4,2226.1 1825.5,2226.1 1825.5,2255.9 1819.2,2255.9 1819.2,2368.3 1812.8,2368.3 1812.8,2419.2 1806.9,2419.2 1806.9,2463.1 1794.6,2475.3 1794.6,2594.7 1788.3,2601.7 1788.3,2719.3"/>
<polyline fill="none" stroke="#ff0000" stroke-width="6.2" points="1910.4,2692.0 1913.2,2692.0 1913.2,2685.6 1926.2,2685.6 1926.2,2679.3 1937.8,2679.3 1937.8,2673.4 1944.8,2673.4 1944.8,2667.4 1956.1,2667.4 1956.1,2661.1 1962.4,2661.1 1962.4,2667.4 1975.4,2667.4 1975.4,2661.1 1980.6,2661.1 1980.6,2667.4 1987.0,2667.4 1987.0,2679.3 2000.0,2679.3 2000.0,2685.6 2012.2,2685.6 2012.2,2692.0 2024.5,2692.0 2024.5,2697.9 2043.1,2697.9 2043.1,2703.9 2075.4,2703.9 2075.4,2697.9 2136.9,2697.9 2136.9,2703.9 2305.4,2703.9 2305.4,2710.2 2362.6,2710.2"/>
<g style="mix-blend-mode:multiply"><g fill="#fad28c" transform="translate(-5,0)"><text x="1641.6" y="2093.4" style='font-family:"Liberation Sans",sans-serif;font-size:89.72px' textLength="108.0" lengthAdjust="spacingAndGlyphs">1.5</text></g><g fill="#8ce6ff" transform="translate(5,0)"><text x="1641.6" y="2093.4" style='font-family:"Liberation Sans",sans-serif;font-size:89.72px' textLength="108.0" lengthAdjust="spacingAndGlyphs">1.5</text></g></g><g fill="#180c28" filter="url(#er)"><text x="1641.6" y="2093.4" style='font-family:"Liberation Sans",sans-serif;font-size:89.72px' textLength="108.0" lengthAdjust="spacingAndGlyphs">1.5</text></g>
<g style="mix-blend-mode:multiply"><g fill="#fad28c" transform="translate(-5,0)"><text x="1712.4" y="2307.0" style='font-family:"Liberation Sans",sans-serif;font-size:90.70px' textLength="31.3" lengthAdjust="spacingAndGlyphs">1</text></g><g fill="#8ce6ff" transform="translate(5,0)"><text x="1712.4" y="2307.0" style='font-family:"Liberation Sans",sans-serif;font-size:90.70px' textLength="31.3" lengthAdjust="spacingAndGlyphs">1</text></g></g><g fill="#180c28" filter="url(#er)"><text x="1712.4" y="2307.0" style='font-family:"Liberation Sans",sans-serif;font-size:90.70px' textLength="31.3" lengthAdjust="spacingAndGlyphs">1</text></g>
<g style="mix-blend-mode:multiply"><g fill="#fad28c" transform="translate(-5,0)"><text x="1636.8" y="2524.1" style='font-family:"Liberation Sans",sans-serif;font-size:88.28px' textLength="112.9" lengthAdjust="spacingAndGlyphs">0.5</text></g><g fill="#8ce6ff" transform="translate(5,0)"><text x="1636.8" y="2524.1" style='font-family:"Liberation Sans",sans-serif;font-size:88.28px' textLength="112.9" lengthAdjust="spacingAndGlyphs">0.5</text></g></g><g fill="#180c28" filter="url(#er)"><text x="1636.8" y="2524.1" style='font-family:"Liberation Sans",sans-serif;font-size:88.28px' textLength="112.9" lengthAdjust="spacingAndGlyphs">0.5</text></g>
<g style="mix-blend-mode:multiply"><g fill="#fad28c" transform="translate(-5,0)"><text x="1708.1" y="2749.6" style='font-family:"Liberation Sans",sans-serif;font-size:88.28px' textLength="41.1" lengthAdjust="spacingAndGlyphs">0</text></g><g fill="#8ce6ff" transform="translate(5,0)"><text x="1708.1" y="2749.6" style='font-family:"Liberation Sans",sans-serif;font-size:88.28px' textLength="41.1" lengthAdjust="spacingAndGlyphs">0</text></g></g><g fill="#180c28" filter="url(#er)"><text x="1708.1" y="2749.6" style='font-family:"Liberation Sans",sans-serif;font-size:88.28px' textLength="41.1" lengthAdjust="spacingAndGlyphs">0</text></g>
<g style="mix-blend-mode:multiply"><g fill="#fad28c" transform="translate(-5,0)"><text x="1758.7" y="2806.1" style='font-family:"Liberation Sans",sans-serif;font-size:88.98px' textLength="39.1" lengthAdjust="spacingAndGlyphs">0</text></g><g fill="#8ce6ff" transform="translate(5,0)"><text x="1758.7" y="2806.1" style='font-family:"Liberation Sans",sans-serif;font-size:88.98px' textLength="39.1" lengthAdjust="spacingAndGlyphs">0</text></g></g><g fill="#180c28" filter="url(#er)"><text x="1758.7" y="2806.1" style='font-family:"Liberation Sans",sans-serif;font-size:88.98px' textLength="39.1" lengthAdjust="spacingAndGlyphs">0</text></g>
<g style="mix-blend-mode:multiply"><g fill="#fad28c" transform="translate(-5,0)"><text x="2006.0" y="2806.1" style='font-family:"Liberation Sans",sans-serif;font-size:88.98px' textLength="111.4" lengthAdjust="spacingAndGlyphs">2.5</text></g><g fill="#8ce6ff" transform="translate(5,0)"><text x="2006.0" y="2806.1" style='font-family:"Liberation Sans",sans-serif;font-size:88.98px' textLength="111.4" lengthAdjust="spacingAndGlyphs">2.5</text></g></g><g fill="#180c28" filter="url(#er)"><text x="2006.0" y="2806.1" style='font-family:"Liberation Sans",sans-serif;font-size:88.98px' textLength="111.4" lengthAdjust="spacingAndGlyphs">2.5</text></g>
<g style="mix-blend-mode:multiply"><g fill="#fad28c" transform="translate(-5,0)"><text x="2338.8" y="2806.1" style='font-family:"Liberation Sans",sans-serif;font-size:90.29px' textLength="40.2" lengthAdjust="spacingAndGlyphs">5</text></g><g fill="#8ce6ff" transform="translate(5,0)"><text x="2338.8" y="2806.1" style='font-family:"Liberation Sans",sans-serif;font-size:90.29px' textLength="40.2" lengthAdjust="spacingAndGlyphs">5</text></g></g><g fill="#180c28" filter="url(#er)"><text x="2338.8" y="2806.1" style='font-family:"Liberation Sans",sans-serif;font-size:90.29px' textLength="40.2" lengthAdjust="spacingAndGlyphs">5</text></g>
<g style="mix-blend-mode:multiply"><g fill="#fad28c" transform="translate(-5,0)"><text x="1889.9" y="2884.7" style='font-family:"Liberation Sans",sans-serif;font-size:76.06px' textLength="331.7" lengthAdjust="spacingAndGlyphs">Time (ps)</text></g><g fill="#8ce6ff" transform="translate(5,0)"><text x="1889.9" y="2884.7" style='font-family:"Liberation Sans",sans-serif;font-size:76.06px' textLength="331.7" lengthAdjust="spacingAndGlyphs">Time (ps)</text></g></g><g fill="#180c28" filter="url(#er)"><text x="1889.9" y="2884.7" style='font-family:"Liberation Sans",sans-serif;font-size:76.06px' textLength="331.7" lengthAdjust="spacingAndGlyphs">Time (ps)</text></g>
<rect x="2081.8" y="2219.0" width="99.7" height="6.3" fill="#0000ff"/>
<rect x="2081.8" y="2318.8" width="99.7" height="6.3" fill="#ff0000"/>
<text x="2191.6" y="2245.4" style='font-family:"Liberation Serif",serif;font-style:italic;font-size:87.20px' textLength="46.1" lengthAdjust="spacingAndGlyphs" fill="#000">λ</text>
<text x="2228.7" y="2268.0" style='font-family:"Liberation Serif",serif;font-size:47.42px' textLength="26.2" lengthAdjust="spacingAndGlyphs" fill="#000">2</text>
<text x="2191.6" y="2347.0" style='font-family:"Liberation Serif",serif;font-style:italic;font-size:86.92px' textLength="46.1" lengthAdjust="spacingAndGlyphs" fill="#000">λ</text>
<text x="2226.6" y="2367.6" style='font-family:"Liberation Serif",serif;font-size:44.06px' textLength="25.4" lengthAdjust="spacingAndGlyphs" fill="#000">3</text>
<text x="2039.4" y="2596.5" style='font-family:"Liberation Serif",serif;font-style:italic;font-size:78.65px' textLength="41.2" lengthAdjust="spacingAndGlyphs" fill="#000">E</text>
<text x="2074.1" y="2598.5" style='font-family:"Liberation Serif",serif;font-style:italic;font-size:50.26px' textLength="19.7" lengthAdjust="spacingAndGlyphs" fill="#000">f</text>
<text x="2092.7" y="2596.4" style='font-family:"Liberation Serif",serif;font-size:77.34px' textLength="225.8" lengthAdjust="spacingAndGlyphs" fill="#000">=0.8eV</text>
<text x="2054.0" y="3013.3" style='font-family:"Liberation Serif",serif;font-size:86.02px' textLength="86.0" lengthAdjust="spacingAndGlyphs" fill="#000">(<tspan style='font-family:"Liberation Serif",serif;font-weight:bold'>i</tspan>)</text>
</g>
<rect x="1585" y="1140" width="10" height="109" fill="#555" opacity="0.8" filter="url(#bl)"/>
<rect x="2353" y="1322" width="10" height="127" fill="#444" opacity="0.8" filter="url(#bl)"/>
<rect x="828" y="2484" width="9" height="132" fill="#444" opacity="0.8" filter="url(#bl)"/>
<rect x="1585" y="2491" width="9" height="128" fill="#555" opacity="0.8" filter="url(#bl)"/>
<rect x="2355" y="2495" width="9" height="130" fill="#444" opacity="0.8" filter="url(#bl)"/>
<rect x="1790" y="573" width="9" height="98" fill="#2f5555" opacity="0.75" filter="url(#bl)"/>
<polygon fill="#0000ff" points="357.3,207.4 363.5,207.4 363.5,226 369.6,226 369.6,254 363.5,254 363.5,268.9 351.2,268.9 351.2,244.3 357.3,244.3"/>
<rect x="234" y="2915" width="35" height="5" fill="#e6e6e6"/>
<rect x="2410" y="228" width="6" height="6" fill="#e09030" opacity="0.8"/>
<rect x="996" y="2908" width="35" height="12" fill="#ececec"/>
<rect x="1757" y="2913" width="37" height="7" fill="#e6e6e6"/>
</svg></body></html>
